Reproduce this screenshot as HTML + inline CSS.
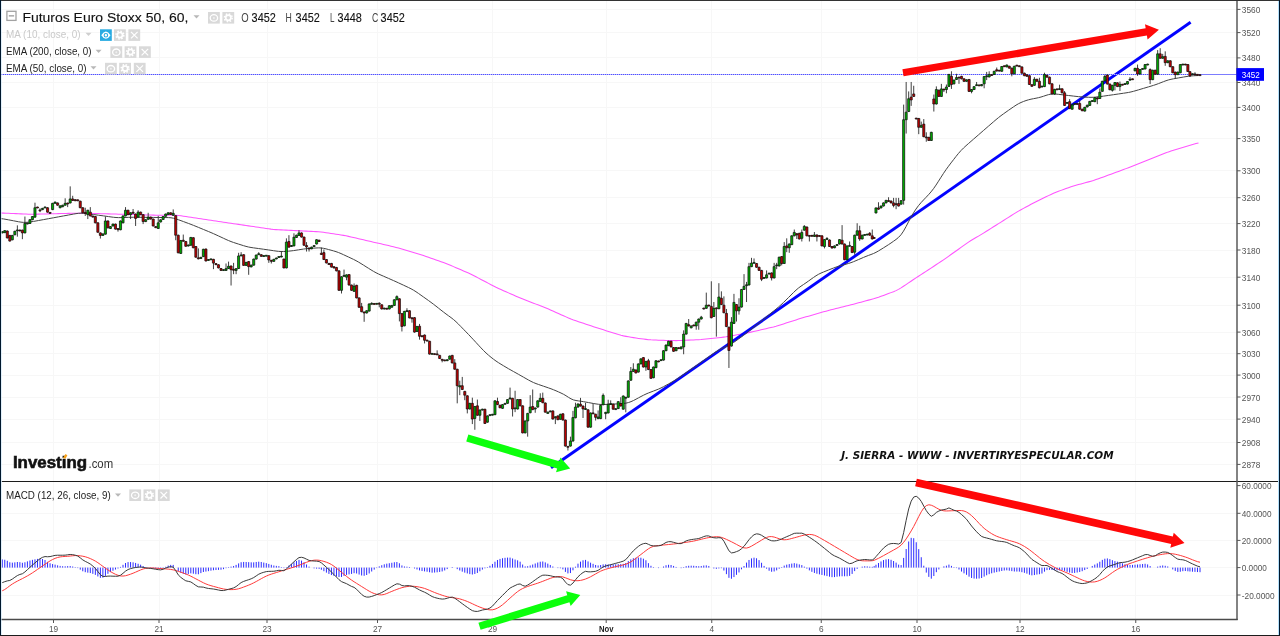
<!DOCTYPE html>
<html lang="es"><head><meta charset="utf-8"><title>Futuros Euro Stoxx 50</title>
<style>html,body{margin:0;padding:0;background:#fff;overflow:hidden}body{width:1280px;height:636px;font-family:"Liberation Sans",sans-serif}svg text{white-space:pre}</style>
</head><body>
<svg width="1280" height="636" viewBox="0 0 1280 636" style="display:block">
<path d="M1 9.5 H1237 M1 32.5 H1237 M1 57.5 H1237 M1 82.5 H1237 M1 107.5 H1237 M1 138.5 H1237 M1 170.5 H1237 M1 197.5 H1237 M1 223.5 H1237 M1 250.5 H1237 M1 277.5 H1237 M1 305.5 H1237 M1 332.5 H1237 M1 353.5 H1237 M1 375.5 H1237 M1 397.5 H1237 M1 419.5 H1237 M1 442.5 H1237 M1 464.5 H1237 M1 513.5 H1237 M1 540.5 H1237 M1 567.5 H1237 M1 595.5 H1237 M53.5 1 V619.5 M159.5 1 V619.5 M267.5 1 V619.5 M377.5 1 V619.5 M492.5 1 V619.5 M606.5 1 V619.5 M711.5 1 V619.5 M821.5 1 V619.5 M917.5 1 V619.5 M1020.5 1 V619.5 M1135.5 1 V619.5" stroke="#f7f7f7" stroke-width="1" fill="none"/>
<polyline points="1,213.05 3.5,213.12 6,213.21 8.5,213.32 11,213.43 13.5,213.53 16,213.64 18.5,213.75 21,213.86 23.5,213.96 26,214.07 28.5,214.16 31,214.22 33.5,214.22 36,214.18 38.5,214.13 41,214.07 43.5,214 46,213.94 48.5,213.88 51,213.82 53.5,213.76 56,213.7 58.5,213.64 61,213.58 63.5,213.52 66,213.45 68.5,213.39 71,213.33 73.5,213.27 76,213.21 78.5,213.17 81,213.16 83.5,213.19 86,213.25 88.5,213.32 91,213.39 93.5,213.46 96,213.53 98.5,213.6 101,213.67 103.5,213.74 106,213.81 108.5,213.88 111,213.94 113.5,214.01 116,214.08 118.5,214.15 121,214.22 123.5,214.29 126,214.36 128.5,214.43 131,214.5 133.5,214.57 136,214.64 138.5,214.71 141,214.77 143.5,214.84 146,214.91 148.5,214.98 151,215.05 153.5,215.12 156,215.18 158.5,215.23 161,215.24 163.5,215.23 166,215.19 168.5,215.14 171,215.1 173.5,215.11 176,215.22 178.5,215.46 181,215.79 183.5,216.17 186,216.54 188.5,216.92 191,217.29 193.5,217.67 196,218.04 198.5,218.42 201,218.79 203.5,219.17 206,219.54 208.5,219.92 211,220.29 213.5,220.67 216,221.04 218.5,221.42 221,221.79 223.5,222.17 226,222.54 228.5,222.91 231,223.29 233.5,223.66 236,224.02 238.5,224.39 241,224.76 243.5,225.13 246,225.5 248.5,225.86 251,226.23 253.5,226.6 256,226.97 258.5,227.34 261,227.7 263.5,228.07 266,228.44 268.5,228.8 271,229.14 273.5,229.42 276,229.61 278.5,229.76 281,229.88 283.5,230.01 286,230.13 288.5,230.25 291,230.37 293.5,230.5 296,230.62 298.5,230.74 301,230.87 303.5,230.99 306,231.11 308.5,231.23 311,231.36 313.5,231.48 316,231.61 318.5,231.79 321,232.03 323.5,232.34 326,232.7 328.5,233.08 331,233.46 333.5,233.84 336,234.21 338.5,234.59 341,234.97 343.5,235.39 346,235.85 348.5,236.38 351,236.94 353.5,237.52 356,238.1 358.5,238.67 361,239.25 363.5,239.83 366,240.41 368.5,240.98 371,241.56 373.5,242.14 376,242.71 378.5,243.29 381,243.86 383.5,244.44 386,245.01 388.5,245.59 391,246.17 393.5,246.77 396,247.4 398.5,248.09 401,248.8 403.5,249.53 406,250.25 408.5,250.98 411,251.71 413.5,252.44 416,253.16 418.5,253.91 421,254.7 423.5,255.53 426,256.39 428.5,257.26 431,258.13 433.5,259 436,259.88 438.5,260.75 441,261.63 443.5,262.52 446,263.47 448.5,264.48 451,265.54 453.5,266.61 456,267.69 458.5,268.76 461,269.84 463.5,270.92 466,271.99 468.5,273.1 471,274.26 473.5,275.5 476,276.79 478.5,278.11 481,279.43 483.5,280.75 486,282.07 488.5,283.39 491,284.71 493.5,286 496,287.25 498.5,288.43 501,289.56 503.5,290.66 506,291.76 508.5,292.86 511,293.96 513.5,295.06 516,296.17 518.5,297.25 521,298.31 523.5,299.32 526,300.3 528.5,301.25 531,302.21 533.5,303.17 536,304.12 538.5,305.08 541,306.03 543.5,307.01 546,308.01 548.5,309.07 551,310.17 553.5,311.28 556,312.4 558.5,313.53 561,314.65 563.5,315.77 566,316.89 568.5,317.99 571,319.02 573.5,319.97 576,320.85 578.5,321.68 581,322.51 583.5,323.34 586,324.16 588.5,324.99 591,325.82 593.5,326.64 596,327.46 598.5,328.26 601,329.06 603.5,329.86 606,330.65 608.5,331.45 611,332.24 613.5,333.03 616,333.83 618.5,334.59 621,335.29 623.5,335.88 626,336.36 628.5,336.79 631,337.21 633.5,337.62 636,338.03 638.5,338.42 641,338.78 643.5,339.1 646,339.39 648.5,339.65 651,339.85 653.5,339.98 656,340.08 658.5,340.16 661,340.24 663.5,340.32 666,340.4 668.5,340.48 671,340.55 673.5,340.6 676,340.61 678.5,340.55 681,340.46 683.5,340.35 686,340.24 688.5,340.13 691,340.02 693.5,339.91 696,339.8 698.5,339.67 701,339.5 703.5,339.27 706,339.02 708.5,338.75 711,338.49 713.5,338.22 716,337.95 718.5,337.68 721,337.41 723.5,337.12 726,336.78 728.5,336.37 731,335.93 733.5,335.46 736,334.99 738.5,334.52 741,334.05 743.5,333.59 746,333.12 748.5,332.63 751,332.13 753.5,331.58 756,331.01 758.5,330.42 761,329.84 763.5,329.25 766,328.66 768.5,328.08 771,327.49 773.5,326.89 776,326.23 778.5,325.5 781,324.72 783.5,323.92 786,323.12 788.5,322.31 791,321.51 793.5,320.71 796,319.9 798.5,319.11 801,318.33 803.5,317.58 806,316.85 808.5,316.13 811,315.42 813.5,314.7 816,313.98 818.5,313.27 821,312.55 823.5,311.84 826,311.15 828.5,310.49 831,309.85 833.5,309.23 836,308.6 838.5,307.98 841,307.35 843.5,306.73 846,306.1 848.5,305.47 851,304.83 853.5,304.18 856,303.51 858.5,302.83 861,302.15 863.5,301.48 866,300.8 868.5,300.12 871,299.44 873.5,298.75 876,298 878.5,297.19 881,296.31 883.5,295.39 886,294.47 888.5,293.55 891,292.63 893.5,291.68 896,290.61 898.5,289.35 901,287.87 903.5,286.24 906,284.57 908.5,282.89 911,281.22 913.5,279.55 916,277.89 918.5,276.25 921,274.61 923.5,272.98 926,271.34 928.5,269.71 931,268.08 933.5,266.44 936,264.81 938.5,263.17 941,261.51 943.5,259.82 946,258.08 948.5,256.32 951,254.54 953.5,252.76 956,250.98 958.5,249.21 961,247.43 963.5,245.65 966,243.88 968.5,242.15 971,240.52 973.5,239 976,237.55 978.5,236.11 981,234.62 983.5,233.09 986,231.52 988.5,229.95 991,228.37 993.5,226.8 996,225.23 998.5,223.65 1001,222.07 1003.5,220.49 1006,218.91 1008.5,217.32 1011,215.74 1013.5,214.17 1016,212.63 1018.5,211.15 1021,209.74 1023.5,208.37 1026,207.02 1028.5,205.67 1031,204.32 1033.5,202.99 1036,201.68 1038.5,200.43 1041,199.21 1043.5,198.01 1046,196.82 1048.5,195.63 1051,194.45 1053.5,193.31 1056,192.24 1058.5,191.27 1061,190.37 1063.5,189.49 1066,188.61 1068.5,187.74 1071,186.87 1073.5,186.05 1076,185.29 1078.5,184.57 1081,183.89 1083.5,183.22 1086,182.54 1088.5,181.87 1091,181.16 1093.5,180.4 1096,179.57 1098.5,178.69 1101,177.79 1103.5,176.89 1106,175.99 1108.5,175.09 1111,174.19 1113.5,173.27 1116,172.35 1118.5,171.42 1121,170.49 1123.5,169.56 1126,168.62 1128.5,167.68 1131,166.73 1133.5,165.75 1136,164.75 1138.5,163.74 1141,162.74 1143.5,161.73 1146,160.73 1148.5,159.73 1151,158.73 1153.5,157.73 1156,156.74 1158.5,155.75 1161,154.76 1163.5,153.76 1166,152.8 1168.5,151.88 1171,151.03 1173.5,150.25 1176,149.49 1178.5,148.73 1181,147.97 1183.5,147.21 1186,146.46 1188.5,145.7 1191,144.95 1193.5,144.2 1196,143.53 1198.5,143.03" fill="none" stroke="#ff55ff" stroke-width="1.05" stroke-linejoin="round"/>
<line x1="551" y1="467.8" x2="1190.6" y2="22.3" stroke="#0303ff" stroke-width="2.9"/>
<polyline points="1,218.61 3.5,218.93 6,219.36 8.5,219.83 11,220.31 13.5,220.79 16,221.27 18.5,221.75 21,222.15 23.5,222.39 26,222.38 28.5,222.16 31,221.81 33.5,221.41 36,220.98 38.5,220.53 41,220.07 43.5,219.61 46,219.15 48.5,218.69 51,218.23 53.5,217.77 56,217.31 58.5,216.85 61,216.39 63.5,215.93 66,215.47 68.5,215.01 71,214.55 73.5,214.09 76,213.65 78.5,213.31 81,213.17 83.5,213.27 86,213.54 88.5,213.87 91,214.21 93.5,214.54 96,214.88 98.5,215.21 101,215.55 103.5,215.89 106,216.23 108.5,216.59 111,216.94 113.5,217.27 116,217.51 118.5,217.63 121,217.62 123.5,217.54 126,217.44 128.5,217.35 131,217.28 133.5,217.25 136,217.25 138.5,217.27 141,217.3 143.5,217.32 146,217.35 148.5,217.38 151,217.4 153.5,217.43 156,217.46 158.5,217.48 161,217.51 163.5,217.53 166,217.55 168.5,217.6 171,217.79 173.5,218.22 176,218.91 178.5,219.77 181,220.68 183.5,221.6 186,222.52 188.5,223.45 191,224.4 193.5,225.38 196,226.39 198.5,227.42 201,228.45 203.5,229.48 206,230.5 208.5,231.54 211,232.59 213.5,233.67 216,234.8 218.5,235.96 221,237.12 223.5,238.29 226,239.44 228.5,240.54 231,241.56 233.5,242.46 236,243.28 238.5,244.08 241,244.87 243.5,245.66 246,246.38 248.5,247 251,247.47 253.5,247.85 256,248.19 258.5,248.54 261,248.88 263.5,249.22 266,249.58 268.5,249.94 271,250.31 273.5,250.69 276,251.06 278.5,251.37 281,251.54 283.5,251.52 286,251.38 288.5,251.17 291,250.91 293.5,250.6 296,250.23 298.5,249.83 301,249.43 303.5,249.06 306,248.77 308.5,248.54 311,248.35 313.5,248.17 316,247.99 318.5,247.89 321,247.96 323.5,248.31 326,248.86 328.5,249.52 331,250.19 333.5,250.88 336,251.65 338.5,252.54 341,253.57 343.5,254.7 346,255.86 348.5,257.03 351,258.19 353.5,259.39 356,260.67 358.5,262.07 361,263.58 363.5,265.14 366,266.72 368.5,268.29 371,269.86 373.5,271.36 376,272.74 378.5,273.97 381,275.11 383.5,276.2 386,277.3 388.5,278.39 391,279.49 393.5,280.59 396,281.71 398.5,282.86 401,284.02 403.5,285.18 406,286.35 408.5,287.52 411,288.77 413.5,290.16 416,291.74 418.5,293.45 421,295.22 423.5,296.99 426,298.76 428.5,300.54 431,302.36 433.5,304.23 436,306.17 438.5,308.13 441,310.11 443.5,312.06 446,313.96 448.5,315.77 451,317.58 453.5,319.52 456,321.72 458.5,324.16 461,326.71 463.5,329.29 466,331.87 468.5,334.46 471,337.1 473.5,339.77 476,342.47 478.5,345.19 481,347.89 483.5,350.51 486,352.95 488.5,355.18 491,357.26 493.5,359.21 496,361.04 498.5,362.7 501,364.26 503.5,365.76 506,367.25 508.5,368.72 511,370.14 513.5,371.54 516,372.93 518.5,374.33 521,375.75 523.5,377.17 526,378.6 528.5,380.02 531,381.35 533.5,382.55 536,383.57 538.5,384.48 541,385.33 543.5,386.19 546,387.04 548.5,387.9 551,388.79 553.5,389.75 556,390.79 558.5,391.9 561,393.04 563.5,394.28 566,395.73 568.5,397.35 571,398.84 573.5,399.92 576,400.53 578.5,400.9 581,401.25 583.5,401.66 586,402.11 588.5,402.57 591,403.03 593.5,403.5 596,403.93 598.5,404.28 601,404.47 603.5,404.5 606,404.42 608.5,404.3 611,404.18 613.5,404.06 616,403.94 618.5,403.82 621,403.69 623.5,403.49 626,403.14 628.5,402.54 631,401.65 633.5,400.5 636,399.2 638.5,397.85 641,396.5 643.5,395.21 646,394.02 648.5,392.96 651,391.99 653.5,391.04 656,390.09 658.5,389.08 661,387.95 663.5,386.69 666,385.34 668.5,383.95 671,382.55 673.5,381.11 676,379.58 678.5,377.95 681,376.24 683.5,374.5 686,372.75 688.5,371.01 691,369.27 693.5,367.53 696,365.79 698.5,364.04 701,362.29 703.5,360.53 706,358.76 708.5,356.99 711,355.23 713.5,353.46 716,351.78 718.5,350.25 721,348.95 723.5,347.79 726,346.69 728.5,345.49 731,344.11 733.5,342.52 736,340.79 738.5,339.01 741,337.21 743.5,335.39 746,333.5 748.5,331.53 751,329.51 753.5,327.47 756,325.43 758.5,323.39 761,321.35 763.5,319.31 766,317.27 768.5,315.24 771,313.2 773.5,311.16 776,309.11 778.5,307.01 781,304.81 783.5,302.45 786,300 788.5,297.5 791,295 793.5,292.5 796,290.14 798.5,288 801,286.18 803.5,284.49 806,282.81 808.5,281.04 811,279.24 813.5,277.46 816,275.78 818.5,274.3 821,273.07 823.5,272 826,271 828.5,270 831,269 833.5,268.02 836,267.1 838.5,266.28 841,265.54 843.5,264.86 846,264.18 848.5,263.46 851,262.64 853.5,261.69 856,260.65 858.5,259.57 861,258.5 863.5,257.42 866,256.38 868.5,255.41 871,254.5 873.5,253.52 876,252.34 878.5,250.93 881,249.4 883.5,247.83 886,246.27 888.5,244.67 891,243 893.5,241.25 896,239.47 898.5,237.4 901,234.75 903.5,231.12 906,226.67 908.5,221.84 911,217.17 913.5,212.87 916,209.03 918.5,205.64 921,202.67 923.5,199.97 926,197.37 928.5,194.73 931,191.89 933.5,188.7 936,185.08 938.5,181.21 941,177.24 943.5,173.37 946,169.69 948.5,166.24 951,162.93 953.5,159.69 956,156.46 958.5,153.38 961,150.54 963.5,148.03 966,145.73 968.5,143.53 971,141.35 973.5,139.17 976,137 978.5,134.83 981,132.65 983.5,130.48 986,128.31 988.5,126.14 991,123.98 993.5,121.81 996,119.67 998.5,117.6 1001,115.66 1003.5,113.83 1006,112.06 1008.5,110.31 1011,108.57 1013.5,106.83 1016,105.18 1018.5,103.71 1021,102.5 1023.5,101.46 1026,100.57 1028.5,99.8 1031,99.18 1033.5,98.68 1036,98.21 1038.5,97.67 1041,97.02 1043.5,96.24 1046,95.39 1048.5,94.63 1051,94.1 1053.5,93.94 1056,94.06 1058.5,94.33 1061,94.62 1063.5,94.91 1066,95.2 1068.5,95.5 1071,95.79 1073.5,96.09 1076,96.38 1078.5,96.65 1081,96.87 1083.5,97.04 1086,97.17 1088.5,97.28 1091,97.33 1093.5,97.28 1096,97.09 1098.5,96.82 1101,96.49 1103.5,96.14 1106,95.78 1108.5,95.42 1111,95.06 1113.5,94.69 1116,94.33 1118.5,93.96 1121,93.6 1123.5,93.23 1126,92.86 1128.5,92.44 1131,91.93 1133.5,91.3 1136,90.59 1138.5,89.85 1141,89.1 1143.5,88.36 1146,87.62 1148.5,86.87 1151,86.13 1153.5,85.35 1156,84.52 1158.5,83.6 1161,82.64 1163.5,81.65 1166,80.72 1168.5,79.92 1171,79.3 1173.5,78.8 1176,78.36 1178.5,77.92 1181,77.48 1183.5,77.04 1186,76.62 1188.5,76.24 1191,75.95 1193.5,75.76 1196,75.63 1198.5,75.55" fill="none" stroke="#454545" stroke-width="1" stroke-linejoin="round"/>
<path d="M1 74.5 H1200" stroke="#b8b8ff" stroke-width="1" fill="none"/>
<path d="M1 74.5 H1200" stroke="#5050ff" stroke-width="1" stroke-dasharray="1 1" fill="none"/>
<path d="M1200 74.5 H1237" stroke="#7c7cff" stroke-width="1" fill="none"/>
<path d="M2.26 231.13V233.4M4.78 230.13V233.14M7.3 230.5V238.43M9.81 234.91V241.57M12.33 234.91V240.31M14.84 230.75V235.28M17.36 225.35V236.67M19.87 229.62V231.38M22.39 229.62V239.18M24.91 216.54V233.4M27.42 222.83V224.34M29.94 219.18V223.96M32.45 216.04V220.19M34.97 202.7V217.67M37.48 206.73V208.24M40 208.36V212.14M42.52 207.86V210.13M45.03 206.6V208.24M47.55 207.23V212.64M50.06 212.01V213.77M52.58 202.83V210.13M55.09 201.57V203.84M57.61 202.45V205.72M60.13 205.35V208.24M62.64 204.72V207.23M65.16 198.3V205.72M67.67 202.7V207.11M70.19 186.35V203.46M72.7 195.79V200.94M75.22 199.18V201.19M77.74 199.43V201.19M80.25 200.69V208.24M82.77 207.23V213.27M85.28 207.74V215.91M87.8 209.75V219.06M90.31 207.11V216.42M92.83 215.53V217.55M95.35 216.04V223.33M97.86 222.33V232.77M100.38 232.39V238.55M102.89 233.4V235.91M105.41 216.54V234.65M107.92 220.44V228.36M110.44 226.1V228.99M112.96 223.58V226.48M115.47 223.58V229.62M117.99 228.11V231.64M120.5 220.44V230.25M123.02 215.41V223.33M125.53 207.11V216.42M128.05 209.75V215.16M130.57 212.26V219.06M133.08 208.99V213.77M135.6 213.52V225.97M138.11 210.25V217.67M140.63 211.64V215.16M143.14 214.15V224.09M145.66 219.18V222.08M148.18 212.77V219.81M150.69 216.67V219.56M153.21 218.55V226.48M155.72 226.1V228.11M158.24 215.91V228.99M160.63 219.34V222.48M163.14 216.07V219.97M165.66 213.55V216.82M168.18 212.3V214.94M170.69 212.3V214.94M173.21 209.4V215.82M175.72 215.19V240.22M178.24 234.69V253.3M180.75 239.97V253.93M183.27 234.56V241.73M185.79 240.97V246.76M188.3 244.5V246.51M190.82 236.95V245.75M193.33 237.2V248.27M195.85 246.01V257.7M198.36 248.4V259.34M200.88 256.82V258.96M203.4 248.77V257.08M205.91 248.52V261.48M208.43 259.09V260.85M210.94 258.58V260.09M213.46 258.84V269.15M215.97 263.11V265.13M218.49 264.25V268.4M221.01 268.02V270.91M223.52 269.28V270.91M226.04 263.49V270.91M228.55 261.6V269.03M231.07 265.5V285.5M233.58 262.86V274.18M236.1 268.14V274.18M238.62 252.8V269.03M241.13 252.17V256.32M243.65 254.18V265.88M246.16 261.86V265.88M248.68 261.1V274.81M251.19 264.62V267.39M253.71 258.58V265.63M256.23 254.56V259.59M258.74 252.17V255.06M261.26 254.18V256.82M263.77 255.31V256.82M266.29 255.06V256.32M268.81 255.19V262.86M271.32 259.84V263.49M273.84 258.84V261.86M276.35 257.58V259.34M278.87 256.19V257.83M281.38 251.54V257.33M283.9 258.58V268.4M286.42 238.33V268.4M288.93 235.19V247.64M291.45 245V247.01M293.96 233.3V246.38M296.48 234.69V237.96M298.99 230.16V235.94M301.51 232.42V237.58M304.03 236.57V245.75M306.54 242.11V251.54M309.06 247.52V251.54M311.57 246.64V249.28M314.09 245.13V247.01M316.6 239.21V244.5M319.12 239.72V241.98M321.38 247.58V255M323.9 249.47V260.03M326.42 259.03V263.43M328.93 262.92V264.94M331.45 262.92V267.58M333.96 266.19V268.46M336.48 266.95V271.35M338.99 270.35V290.85M341.51 276.26V293.49M344.03 269.59V276.76M346.54 274.37V280.28M349.06 274.12V285.57M351.57 284.56V290.85M354.09 283.43V291.86M356.6 284.81V298.4M359.12 297.39V307.83M361.64 302.92V312.23M364.15 311.48V321.79M366.67 310.22V313.49M369.18 303.43V311.6M371.7 302.3V304.56M374.21 303.18V304.69M376.73 303.05V304.56M379.25 302.3V307.33M381.76 304.31V309.47M384.28 307.7V309.47M386.79 307.96V309.47M389.31 305.19V309.47M391.82 304.94V307.7M394.34 299.28V305.94M396.86 295.38V300.28M399.4 298.27V321.42M401.92 313.11V331.48M404.43 310.85V326.32M406.95 308.21V311.86M409.47 310.22V318.4M411.98 317.39V322.67M414.5 317.14V332.61M417.01 325.94V331.98M419.53 323.93V339.65M422.04 335.38V337.14M424.56 334.5V343.43M427.08 339.78V341.42M429.59 340.79V354.62M432.11 353.11V354.62M434.62 353.36V354.87M437.14 350.35V355.13M439.65 354.87V359.03M442.17 358.9V362.3M444.69 359.65V361.16M447.2 359.28V361.16M449.72 355.5V359.65M452.23 354.87V363.43M454.75 359.15V369.72M457.23 368.74V403.33M459.75 380.69V395.16M462.26 376.92V390M464.78 390.88V400.19M467.3 395.28V413.4M469.81 402.83V409.5M472.33 397.67V424.09M474.84 405.97V429.75M477.36 399.56V415.79M479.87 409.5V420.94M482.39 408.74V410.5M484.91 408.74V423.96M487.42 415.41V422.7M489.94 414.28V416.04M492.45 413.9V415.53M494.97 400.31V415.16M497.48 397.67V405.09M500 404.72V408.24M502.52 404.09V408.87M505.03 402.96V404.72M507.55 399.06V403.84M510.06 387.61V399.43M512.58 397.8V416.54M515.09 390.75V412.14M517.61 399.06V409.5M520.13 399.06V406.35M522.64 405.35V433.4M525.16 420.44V433.4M527.67 412.89V436.67M530.19 395.16V413.27M532.7 389.5V410.13M535.22 407.48V412.77M537.74 400.31V407.61M540.25 393.27V401.95M542.77 392.64V403.21M545.28 402.45V412.64M547.8 411.64V413.9M550.31 410.5V412.26M552.83 410.38V419.56M555.35 416.29V424.09M557.86 415.41V420.19M560.38 413.77V419.81M562.89 413.27V420.57M565.41 419.56V446.6M567.92 445.97V450.5M570.44 436.67V446.6M572.96 410.88V441.57M575.47 402.7V418.3M577.99 403.46V407.61M580.5 397.86V406.54M583.02 405.53V417.99M585.53 402.89V409.94M588.05 409.31V427.67M590.57 412.45V427.67M593.08 403.52V414.21M595.6 413.71V420.5M598.11 410.44V419.12M600.63 404.91V419.12M603.14 393.46V405.28M605.66 411.82V419.25M608.18 399.75V413.46M610.69 400.38V404.91M613.21 403.65V409.69M615.72 408.18V410.06M618.24 401.13V409.06M620.75 397.23V406.54M623.27 395.47V409.69M625.79 396.86V412.33M628.3 380.38V397.74M630.82 367.04V380.75M633.33 363.27V371.95M635.85 369.43V373.46M638.36 363.4V372.58M640.88 358.36V364.4M643.4 357.11V367.55M645.91 360.88V370.82M648.43 358.87V370.06M650.94 369.06V378.87M653.46 366.54V378.24M655.97 360.25V368.18M658.49 360.63V362.26M661.01 359.37V361.01M663.52 350.19V360.63M666.04 344.53V351.19M668.55 340.75V346.16M671.07 340.75V347.42M673.58 347.04V351.82M676.1 347.04V351.19M678.62 347.3V349.06M681.13 346.42V349.31M683.65 330.35V354.25M686.16 322.92V334.62M688.68 319.03V326.45M691.19 325.44V328.33M693.71 324.56V326.32M696.23 321.67V329.72M698.74 318.52V329.72M701.26 315.88V319.53M703.77 307.7V309.47M706.29 292.61V308.84M708.81 304.69V306.45M711.32 281.29V318.27M713.84 302.04V317.01M716.35 307.45V336.64M718.87 283.18V309.21M721.38 291.35V305.06M723.9 296.38V313.24M726.42 308.96V327.08M728.93 326.7V367.96M731.45 317.14V346.57M733.96 293.87V323.93M736.48 304.06V321.54M738.99 298.27V314.62M741.51 288.96V307.58M744.03 274.12V289.97M746.54 281.92V302.04M748.99 262.86V285.5M751.51 257.83V267.14M754.03 258.46V263.62M756.54 262.99V267.77M759.06 266.76V270.91M761.57 269.91V281.1M764.09 277.2V278.71M766.6 270.41V278.46M769.12 272.8V274.43M771.64 272.42V280.47M774.15 262.86V278.46M776.67 262.86V269.15M779.18 256.7V266.51M781.7 256.07V265.38M784.21 242.11V263.99M786.73 238.33V252.17M789.25 243.49V252.8M791.76 235.31V245.13M794.28 229.53V236.32M796.79 233.18V238.96M799.31 232.8V239.47M801.82 229.53V241.48M804.34 225.13V230.66M806.86 226.51V236.32M809.37 235.06V241.48M811.89 234.94V236.7M814.4 232.04V236.95M816.92 234.43V241.48M819.43 235.19V236.7M821.95 235.31V246.38M824.47 239.09V248.4M826.98 237.08V239.72M829.5 239.47V247.01M832.01 246.01V248.52M834.53 245.38V248.27M837.04 244.25V245.75M839.56 239.09V244.5M842.08 225.13V244.5M844.59 243.49V260.22M847.11 245.38V260.22M849.62 241.48V246.64M852.14 246.01V253.05M854.65 234.69V254.69M857.17 223.24V235.69M859.69 225.75V240.85M862.2 234.69V239.47M864.72 234.18V235.69M867.23 233.81V235.31M869.75 232.04V235.69M872.26 229.53V239.47M874.15 237.2V238.71M875.97 207.42V213.46M878.49 202.26V209.69M881.01 205.53V208.43M883.52 202.39V206.54M886.04 199.87V203.4M888.55 197.23V201.76M891.07 200.5V203.4M893.58 197.86V207.3M896.1 197.86V209.18M898.62 197.86V206.54M901.13 200.13V204.65M903.65 104.62V204.62M906.16 81.98V133.55M908.68 91.42V112.04M911.19 81.98V105.88M913.71 85.75V96.95M916.23 117.83V119.34M918.74 117.96V134.18M921.26 121.6V127.77M923.77 119.09V137.2M926.29 132.3V141.73M928.81 136.82V140.97M931.32 131.79V140.97M933.84 94.56V111.54M936.35 86.38V104.5M938.87 89.65V96.95M941.38 83.87V96.95M943.9 88.77V92.04M946.42 84.5V93.3M948.93 73.93V86.89M951.45 71.29V88.9M953.96 79.59V84.37M956.48 73.81V79.97M958.99 76.82V83.87M961.51 75.82V79.34M964.03 78.33V81.86M966.54 79.34V81.86M969.06 78.96V91.92M971.57 89.03V93.3M974.09 86.13V90.03M976.6 81.98V86.01M979.12 84.62V86.13M981.64 83.99V86.26M984.15 76.07V88.27M986.67 71.92V80.09M989.18 71.29V77.45M991.7 74.31V75.82M994.21 70.79V74.94M996.73 67.52V71.54M999.25 69.91V71.42M1001.76 66.01V71.79M1004.28 65.5V67.01M1006.79 64.5V67.39M1009.31 65.75V68.65M1011.82 67.64V76.32M1014.34 65.75V74.31M1016.86 64.87V66.38M1019.37 65.5V67.01M1021.89 66.38V73.68M1024.4 72.67V76.19M1026.92 74.31V76.82M1029.43 75.19V85M1031.89 84.18V86.82M1034.4 77.14V85.82M1036.92 78.77V81.79M1039.43 77.77V88.33M1041.95 85.82V87.33M1044.47 72.74V87.08M1046.98 74.75V77.64M1049.5 76.64V84.31M1052.01 83.3V94.37M1054.53 88.84V94.62M1057.04 88.58V90.09M1059.56 84.69V89.84M1062.08 88.33V93.36M1064.59 90.97V105.94M1067.11 102.04V103.81M1069.62 99.15V109.09M1072.14 104.31V109.72M1074.65 103.18V104.69M1077.17 103.18V104.69M1079.69 100.41V109.72M1082.2 108.71V111.23M1084.72 106.82V111.6M1087.23 104.69V107.45M1089.75 100.91V105.94M1092.26 100.16V101.92M1094.78 97.14V102.17M1097.3 96.64V104.18M1099.81 88.46V99.03M1102.33 80.79V91.86M1104.84 74.62V81.42M1107.36 74.5V84.56M1109.87 83.55V90.22M1112.39 84.81V91.6M1114.91 82.04V90.35M1117.42 82.3V87.08M1119.94 81.54V90.97M1122.45 83.93V85.44M1124.97 83.3V84.81M1127.48 81.04V84.56M1130 77.14V80.53M1132.52 78.52V80.03M1135.03 67.83V71.35M1137.55 64.56V75.88M1140.06 69.09V74.5M1142.58 68.21V69.72M1145.09 64.06V69.47M1147.61 63.68V65.31M1150.13 68.33V84.06M1152.64 69.72V80.16M1155.16 69.72V74.75M1157.67 50.09V74.75M1160.19 48.21V58.77M1162.7 53.87V58.77M1165.22 51.35V65.82M1167.74 60.28V63.18M1170.25 60.28V67.2M1172.77 66.19V73.24M1175.28 71.6V78.4M1177.8 71.6V75.13M1180.31 64.06V73.24M1182.83 63.81V65.31M1185.35 63.81V65.31M1187.86 64.06V71.98M1189.94 71.13V76.54M1192.45 73.4V74.91M1194.97 72.26V75.16M1197.48 74.03V75.53M1200 74.4V75.91" stroke="#2a2a2a" stroke-width="0.9" fill="none"/>
<path d="M1.21 231.64h2.1v1.26h-2.1zM3.73 230.63h2.1v2.01h-2.1zM11.28 235.41h2.1v4.4h-2.1zM13.79 231.26h2.1v3.52h-2.1zM16.31 229.93h2.1v0.9h-2.1zM23.86 223.46h2.1v9.43h-2.1zM26.37 223.13h2.1v0.9h-2.1zM28.89 219.69h2.1v3.77h-2.1zM31.4 216.54h2.1v3.14h-2.1zM33.92 207.74h2.1v9.43h-2.1zM41.47 208.36h2.1v1.26h-2.1zM43.98 206.97h2.1v0.9h-2.1zM51.53 203.33h2.1v6.29h-2.1zM54.04 202.08h2.1v1.26h-2.1zM59.08 205.85h2.1v1.89h-2.1zM61.59 205.22h2.1v1.51h-2.1zM64.11 203.33h2.1v1.89h-2.1zM69.14 198.93h2.1v4.03h-2.1zM86.75 210.25h2.1v4.4h-2.1zM101.84 233.9h2.1v1.51h-2.1zM104.36 220.94h2.1v13.21h-2.1zM109.39 226.6h2.1v1.89h-2.1zM111.91 224.09h2.1v1.89h-2.1zM119.45 220.94h2.1v8.81h-2.1zM121.97 215.91h2.1v6.92h-2.1zM124.48 210.25h2.1v5.66h-2.1zM129.52 212.77h2.1v1.89h-2.1zM137.06 212.14h2.1v5.03h-2.1zM144.61 219.69h2.1v1.89h-2.1zM147.13 217.17h2.1v2.14h-2.1zM157.19 222.83h2.1v5.66h-2.1zM159.58 219.84h2.1v2.14h-2.1zM162.09 216.57h2.1v2.89h-2.1zM164.61 214.06h2.1v2.26h-2.1zM167.13 212.8h2.1v1.64h-2.1zM172.16 213.3h2.1v2.01h-2.1zM179.7 240.47h2.1v12.96h-2.1zM187.25 245h2.1v1.01h-2.1zM189.77 237.45h2.1v7.8h-2.1zM199.83 257.33h2.1v1.13h-2.1zM202.35 249.28h2.1v7.3h-2.1zM207.38 259.52h2.1v0.9h-2.1zM209.89 258.89h2.1v0.9h-2.1zM222.47 269.64h2.1v0.9h-2.1zM224.99 268.65h2.1v1.76h-2.1zM227.5 266.26h2.1v2.26h-2.1zM235.05 268.65h2.1v1.76h-2.1zM237.57 255.94h2.1v12.58h-2.1zM240.08 254.93h2.1v0.9h-2.1zM245.11 262.36h2.1v3.02h-2.1zM250.14 265.13h2.1v1.76h-2.1zM252.66 259.09h2.1v6.04h-2.1zM255.18 255.06h2.1v4.03h-2.1zM257.69 253.73h2.1v0.9h-2.1zM262.72 255.62h2.1v0.9h-2.1zM265.24 255.24h2.1v0.9h-2.1zM272.79 259.34h2.1v2.01h-2.1zM275.3 258.01h2.1v0.9h-2.1zM277.82 256.56h2.1v0.9h-2.1zM280.33 256.12h2.1v0.9h-2.1zM285.37 242.11h2.1v25.79h-2.1zM290.4 245.5h2.1v1.01h-2.1zM292.91 237.2h2.1v8.68h-2.1zM295.43 235.19h2.1v2.26h-2.1zM297.94 232.92h2.1v2.52h-2.1zM310.52 247.14h2.1v1.64h-2.1zM313.04 245.62h2.1v0.9h-2.1zM315.55 239.72h2.1v4.28h-2.1zM340.46 276.76h2.1v13.58h-2.1zM342.98 275.43h2.1v0.9h-2.1zM345.49 274.87h2.1v2.26h-2.1zM353.04 286.07h2.1v5.28h-2.1zM365.62 310.72h2.1v2.26h-2.1zM368.13 303.93h2.1v7.17h-2.1zM370.65 303.36h2.1v0.9h-2.1zM375.68 303.36h2.1v0.9h-2.1zM383.23 308.13h2.1v0.9h-2.1zM388.26 305.69h2.1v3.27h-2.1zM390.77 305.44h2.1v1.76h-2.1zM393.29 299.78h2.1v5.66h-2.1zM395.81 296.64h2.1v3.14h-2.1zM403.38 311.35h2.1v14.47h-2.1zM405.9 310.65h2.1v0.9h-2.1zM415.96 326.45h2.1v5.03h-2.1zM431.06 353.42h2.1v0.9h-2.1zM446.15 359.77h2.1v0.9h-2.1zM448.67 356.01h2.1v3.14h-2.1zM458.7 385.72h2.1v1.26h-2.1zM468.76 403.33h2.1v5.66h-2.1zM473.79 406.48h2.1v11.95h-2.1zM478.82 410h2.1v5.28h-2.1zM481.34 409.17h2.1v0.9h-2.1zM486.37 415.91h2.1v6.29h-2.1zM488.89 414.71h2.1v0.9h-2.1zM491.4 414.27h2.1v0.9h-2.1zM493.92 400.82h2.1v13.84h-2.1zM501.47 404.59h2.1v3.77h-2.1zM503.98 403.39h2.1v0.9h-2.1zM506.5 399.56h2.1v3.77h-2.1zM509.01 397.92h2.1v1.01h-2.1zM514.04 407.91h2.1v0.9h-2.1zM516.56 399.56h2.1v9.43h-2.1zM524.11 420.94h2.1v11.95h-2.1zM526.62 413.4h2.1v7.55h-2.1zM529.14 407.11h2.1v5.66h-2.1zM534.17 407.99h2.1v1.01h-2.1zM536.69 400.82h2.1v6.29h-2.1zM539.2 398.3h2.1v3.14h-2.1zM546.75 412.14h2.1v1.26h-2.1zM549.26 410.93h2.1v0.9h-2.1zM554.3 416.79h2.1v1.01h-2.1zM559.33 414.28h2.1v5.03h-2.1zM569.39 441.07h2.1v5.03h-2.1zM571.91 417.55h2.1v23.52h-2.1zM574.42 407.11h2.1v10.69h-2.1zM576.94 403.96h2.1v3.14h-2.1zM584.48 408.61h2.1v0.9h-2.1zM589.52 412.96h2.1v14.21h-2.1zM597.06 416.98h2.1v1.64h-2.1zM599.58 405.41h2.1v13.21h-2.1zM602.09 395.35h2.1v9.43h-2.1zM604.61 412.33h2.1v1.26h-2.1zM607.13 404.15h2.1v8.81h-2.1zM609.64 403.58h2.1v0.9h-2.1zM614.67 408.67h2.1v0.9h-2.1zM617.19 401.64h2.1v6.92h-2.1zM622.22 395.97h2.1v13.21h-2.1zM624.74 397.29h2.1v0.9h-2.1zM627.25 380.88h2.1v16.35h-2.1zM629.77 371.45h2.1v8.81h-2.1zM632.28 369.18h2.1v2.26h-2.1zM637.31 363.9h2.1v8.18h-2.1zM639.83 358.87h2.1v5.03h-2.1zM644.86 361.38h2.1v5.66h-2.1zM652.41 367.04h2.1v10.69h-2.1zM654.92 360.75h2.1v6.92h-2.1zM659.96 359.74h2.1v0.9h-2.1zM662.47 350.69h2.1v9.43h-2.1zM664.99 345.03h2.1v5.66h-2.1zM667.5 341.26h2.1v4.4h-2.1zM675.05 347.55h2.1v3.14h-2.1zM680.08 346.92h2.1v1.89h-2.1zM682.6 334.12h2.1v12.83h-2.1zM685.11 323.43h2.1v10.69h-2.1zM690.14 325.94h2.1v1.89h-2.1zM695.18 322.17h2.1v3.77h-2.1zM697.69 319.03h2.1v3.14h-2.1zM700.21 317.14h2.1v1.89h-2.1zM705.24 305.19h2.1v3.14h-2.1zM712.79 308.33h2.1v8.18h-2.1zM717.82 297.01h2.1v11.7h-2.1zM730.4 322.17h2.1v23.9h-2.1zM732.91 302.42h2.1v21.01h-2.1zM737.94 307.08h2.1v3.77h-2.1zM740.46 289.47h2.1v17.61h-2.1zM742.98 286.32h2.1v3.14h-2.1zM745.49 284.8h2.1v0.9h-2.1zM747.94 266.64h2.1v18.36h-2.1zM750.46 263.11h2.1v3.52h-2.1zM752.98 262.41h2.1v0.9h-2.1zM763.04 277.51h2.1v0.9h-2.1zM765.55 274.81h2.1v3.14h-2.1zM768.07 273.17h2.1v0.9h-2.1zM773.1 266.64h2.1v11.32h-2.1zM775.62 264.93h2.1v0.9h-2.1zM778.13 257.2h2.1v8.81h-2.1zM783.16 246.51h2.1v16.98h-2.1zM788.2 243.99h2.1v3.77h-2.1zM790.71 235.82h2.1v8.81h-2.1zM793.23 232.42h2.1v3.4h-2.1zM800.77 232.42h2.1v5.91h-2.1zM803.29 226.38h2.1v3.77h-2.1zM813.35 234.94h2.1v1.51h-2.1zM823.42 239.59h2.1v6.92h-2.1zM825.93 238.51h2.1v0.9h-2.1zM833.48 245.88h2.1v1.89h-2.1zM835.99 244.55h2.1v0.9h-2.1zM838.51 239.59h2.1v4.4h-2.1zM846.06 245.88h2.1v13.84h-2.1zM848.57 245.43h2.1v0.9h-2.1zM853.6 235.19h2.1v16.98h-2.1zM856.12 230.79h2.1v4.4h-2.1zM861.15 235.19h2.1v3.77h-2.1zM863.67 234.49h2.1v0.9h-2.1zM866.18 234.11h2.1v0.9h-2.1zM874.92 207.92h2.1v5.03h-2.1zM879.96 206.04h2.1v1.89h-2.1zM882.47 202.89h2.1v3.14h-2.1zM884.99 200.38h2.1v2.52h-2.1zM900.08 200.63h2.1v3.52h-2.1zM902.6 119.72h2.1v80.63h-2.1zM905.11 112.17h2.1v7.55h-2.1zM907.63 98.71h2.1v12.83h-2.1zM920.21 125.38h2.1v1.89h-2.1zM930.27 132.3h2.1v8.18h-2.1zM935.3 89.53h2.1v14.47h-2.1zM940.33 88.9h2.1v7.55h-2.1zM945.37 87.01h2.1v2.52h-2.1zM947.88 74.43h2.1v11.95h-2.1zM952.91 80.09h2.1v3.77h-2.1zM955.43 77.58h2.1v1.89h-2.1zM965.49 79.84h2.1v1.51h-2.1zM970.52 89.53h2.1v1.89h-2.1zM973.04 86.64h2.1v2.89h-2.1zM975.55 84.74h2.1v0.9h-2.1zM980.59 84.5h2.1v1.26h-2.1zM983.1 76.57h2.1v7.3h-2.1zM985.62 75.87h2.1v0.9h-2.1zM988.13 74.43h2.1v2.52h-2.1zM993.16 71.29h2.1v3.14h-2.1zM1000.71 66.51h2.1v4.78h-2.1zM1005.74 65h2.1v1.89h-2.1zM1013.29 66.26h2.1v7.55h-2.1zM1033.35 79.28h2.1v6.04h-2.1zM1040.9 86.12h2.1v0.9h-2.1zM1043.42 74.62h2.1v11.95h-2.1zM1053.48 89.34h2.1v4.78h-2.1zM1058.51 88.64h2.1v0.9h-2.1zM1066.06 102.47h2.1v0.9h-2.1zM1071.09 104.81h2.1v4.4h-2.1zM1073.6 103.48h2.1v0.9h-2.1zM1083.67 107.33h2.1v3.77h-2.1zM1086.18 105.19h2.1v1.76h-2.1zM1088.7 101.42h2.1v4.03h-2.1zM1091.21 100.59h2.1v0.9h-2.1zM1093.73 97.64h2.1v4.03h-2.1zM1098.76 92.23h2.1v6.29h-2.1zM1101.28 81.29h2.1v10.06h-2.1zM1103.79 76.51h2.1v4.4h-2.1zM1111.34 85.31h2.1v5.03h-2.1zM1113.86 82.55h2.1v2.77h-2.1zM1118.89 84.31h2.1v2.26h-2.1zM1123.92 83.61h2.1v0.9h-2.1zM1126.43 81.54h2.1v2.52h-2.1zM1128.95 79.27h2.1v0.9h-2.1zM1133.98 68.33h2.1v2.52h-2.1zM1139.01 69.59h2.1v4.4h-2.1zM1141.53 68.51h2.1v0.9h-2.1zM1144.04 64.56h2.1v4.4h-2.1zM1146.56 64.11h2.1v0.9h-2.1zM1151.59 70.22h2.1v9.43h-2.1zM1156.62 53.87h2.1v20.38h-2.1zM1161.65 56.64h2.1v1.64h-2.1zM1166.69 60.79h2.1v1.89h-2.1zM1176.75 72.11h2.1v2.52h-2.1zM1179.26 64.56h2.1v8.18h-2.1zM1181.78 64.11h2.1v0.9h-2.1zM1191.4 73.7h2.1v0.9h-2.1z" fill="#00b000" stroke="#0c0c0c" stroke-width="0.7"/>
<path d="M6.25 231.01h2.1v6.92h-2.1zM8.76 235.41h2.1v5.66h-2.1zM18.82 230.05h2.1v0.9h-2.1zM21.34 230.13h2.1v2.77h-2.1zM36.43 207.03h2.1v0.9h-2.1zM38.95 209.93h2.1v0.9h-2.1zM46.5 207.74h2.1v4.4h-2.1zM49.01 212.44h2.1v0.9h-2.1zM56.56 202.96h2.1v2.26h-2.1zM66.62 203.01h2.1v0.9h-2.1zM71.65 198.93h2.1v1.51h-2.1zM74.17 199.69h2.1v1.01h-2.1zM76.69 199.86h2.1v0.9h-2.1zM79.2 201.19h2.1v6.54h-2.1zM81.72 207.74h2.1v5.03h-2.1zM84.23 212.39h2.1v1.01h-2.1zM89.26 212.14h2.1v3.77h-2.1zM91.78 216.04h2.1v1.01h-2.1zM94.3 216.54h2.1v6.29h-2.1zM96.81 222.83h2.1v9.43h-2.1zM99.33 232.89h2.1v2.52h-2.1zM106.87 220.94h2.1v6.92h-2.1zM114.42 224.09h2.1v5.03h-2.1zM116.94 228.62h2.1v1.01h-2.1zM127 210.25h2.1v4.4h-2.1zM132.03 212.26h2.1v1.01h-2.1zM134.55 214.03h2.1v4.4h-2.1zM139.58 212.14h2.1v2.52h-2.1zM142.09 214.65h2.1v6.92h-2.1zM149.64 217.17h2.1v1.89h-2.1zM152.16 219.06h2.1v6.92h-2.1zM154.67 226.6h2.1v1.01h-2.1zM169.64 212.8h2.1v1.64h-2.1zM174.67 215.69h2.1v19.5h-2.1zM177.19 235.19h2.1v17.61h-2.1zM182.22 240.22h2.1v1.01h-2.1zM184.74 241.48h2.1v4.78h-2.1zM192.28 237.7h2.1v10.06h-2.1zM194.8 246.51h2.1v10.69h-2.1zM197.31 257.83h2.1v1.01h-2.1zM204.86 249.03h2.1v11.95h-2.1zM212.41 259.34h2.1v3.77h-2.1zM214.92 263.62h2.1v1.01h-2.1zM217.44 264.75h2.1v3.14h-2.1zM219.96 268.52h2.1v1.89h-2.1zM230.02 266.01h2.1v3.77h-2.1zM232.53 269.33h2.1v0.9h-2.1zM242.6 254.69h2.1v10.69h-2.1zM247.63 261.6h2.1v5.03h-2.1zM260.21 254.69h2.1v1.64h-2.1zM267.76 255.69h2.1v4.28h-2.1zM270.27 260.35h2.1v1.01h-2.1zM282.85 259.09h2.1v8.81h-2.1zM287.88 241.48h2.1v5.66h-2.1zM300.46 232.92h2.1v4.15h-2.1zM302.98 237.08h2.1v8.18h-2.1zM305.49 245.5h2.1v1.51h-2.1zM308.01 248.02h2.1v1.01h-2.1zM318.07 240.22h2.1v1.26h-2.1zM320.33 253.24h2.1v1.26h-2.1zM322.85 252.61h2.1v6.92h-2.1zM325.37 259.53h2.1v3.4h-2.1zM327.88 263.43h2.1v1.01h-2.1zM330.4 263.43h2.1v3.65h-2.1zM332.91 266.7h2.1v1.26h-2.1zM335.43 267.45h2.1v3.4h-2.1zM337.94 270.85h2.1v19.5h-2.1zM348.01 274.62h2.1v10.44h-2.1zM350.52 285.06h2.1v5.28h-2.1zM355.55 285.31h2.1v12.58h-2.1zM358.07 297.89h2.1v9.43h-2.1zM360.59 306.7h2.1v5.03h-2.1zM363.1 311.98h2.1v1.01h-2.1zM373.16 303.48h2.1v0.9h-2.1zM378.2 303.23h2.1v0.9h-2.1zM380.71 304.81h2.1v4.15h-2.1zM385.74 308.26h2.1v0.9h-2.1zM398.35 298.77h2.1v14.84h-2.1zM400.87 313.62h2.1v12.83h-2.1zM408.42 310.72h2.1v7.17h-2.1zM410.93 317.82h2.1v0.9h-2.1zM413.45 317.64h2.1v14.47h-2.1zM418.48 326.19h2.1v10.06h-2.1zM420.99 335.81h2.1v0.9h-2.1zM423.51 335h2.1v5.28h-2.1zM426.03 340.15h2.1v0.9h-2.1zM428.54 341.29h2.1v12.83h-2.1zM433.57 353.67h2.1v0.9h-2.1zM436.09 353.92h2.1v0.9h-2.1zM438.6 355.38h2.1v3.14h-2.1zM441.12 359.33h2.1v0.9h-2.1zM443.64 359.96h2.1v0.9h-2.1zM451.18 355.38h2.1v7.55h-2.1zM453.7 362.92h2.1v6.29h-2.1zM456.18 369.25h2.1v16.48h-2.1zM461.21 385.72h2.1v3.77h-2.1zM463.73 391.38h2.1v3.77h-2.1zM466.25 395.79h2.1v13.21h-2.1zM471.28 403.33h2.1v15.72h-2.1zM476.31 405.85h2.1v9.43h-2.1zM483.86 409.25h2.1v14.21h-2.1zM496.43 401.45h2.1v3.14h-2.1zM498.95 405.22h2.1v2.52h-2.1zM511.53 398.3h2.1v10.69h-2.1zM519.08 399.56h2.1v6.29h-2.1zM521.59 405.85h2.1v27.04h-2.1zM531.65 406.48h2.1v3.14h-2.1zM541.72 398.3h2.1v4.4h-2.1zM544.23 402.96h2.1v9.18h-2.1zM551.78 410.88h2.1v8.18h-2.1zM556.81 415.91h2.1v3.77h-2.1zM561.84 413.77h2.1v6.29h-2.1zM564.36 420.06h2.1v26.04h-2.1zM566.87 446.41h2.1v0.9h-2.1zM579.45 404.15h2.1v1.89h-2.1zM581.97 406.04h2.1v2.89h-2.1zM587 409.81h2.1v17.36h-2.1zM592.03 412.88h2.1v0.9h-2.1zM594.55 414.21h2.1v3.14h-2.1zM612.16 404.15h2.1v5.03h-2.1zM619.7 403.52h2.1v2.52h-2.1zM634.8 369.94h2.1v3.02h-2.1zM642.35 357.61h2.1v9.43h-2.1zM647.38 360.75h2.1v8.81h-2.1zM649.89 369.56h2.1v8.81h-2.1zM657.44 361h2.1v0.9h-2.1zM670.02 341.26h2.1v5.66h-2.1zM672.53 347.55h2.1v3.77h-2.1zM677.57 347.73h2.1v0.9h-2.1zM687.63 324.69h2.1v1.26h-2.1zM692.66 324.99h2.1v0.9h-2.1zM702.72 308.13h2.1v0.9h-2.1zM707.76 305.12h2.1v0.9h-2.1zM710.27 306.45h2.1v11.32h-2.1zM715.3 307.88h2.1v0.9h-2.1zM720.33 298.27h2.1v6.29h-2.1zM722.85 305.19h2.1v7.55h-2.1zM725.37 313.36h2.1v13.21h-2.1zM727.88 327.2h2.1v23.27h-2.1zM735.43 304.56h2.1v6.29h-2.1zM755.49 263.49h2.1v3.77h-2.1zM758.01 267.26h2.1v3.14h-2.1zM760.52 270.41h2.1v8.81h-2.1zM770.59 272.92h2.1v5.03h-2.1zM780.65 256.57h2.1v6.92h-2.1zM785.68 245.88h2.1v1.89h-2.1zM795.74 233.68h2.1v1.26h-2.1zM798.26 233.3h2.1v5.66h-2.1zM805.81 227.01h2.1v8.81h-2.1zM808.32 235.43h2.1v0.9h-2.1zM810.84 235.37h2.1v0.9h-2.1zM815.87 234.94h2.1v1.76h-2.1zM818.38 235.49h2.1v0.9h-2.1zM820.9 235.82h2.1v10.06h-2.1zM828.45 239.97h2.1v6.54h-2.1zM830.96 246.51h2.1v1.51h-2.1zM841.03 240.22h2.1v3.77h-2.1zM843.54 243.99h2.1v15.72h-2.1zM851.09 246.51h2.1v6.04h-2.1zM858.64 230.79h2.1v8.18h-2.1zM868.7 233.3h2.1v1.89h-2.1zM871.21 235.82h2.1v3.14h-2.1zM873.1 237.51h2.1v0.9h-2.1zM877.44 207.92h2.1v1.26h-2.1zM887.5 200.56h2.1v0.9h-2.1zM890.02 201.01h2.1v1.89h-2.1zM892.53 202.89h2.1v2.52h-2.1zM895.05 203.7h2.1v0.9h-2.1zM897.57 203.52h2.1v2.52h-2.1zM910.14 97.08h2.1v2.89h-2.1zM912.66 93.93h2.1v2.52h-2.1zM915.18 118.13h2.1v0.9h-2.1zM917.69 118.46h2.1v8.81h-2.1zM922.72 124.12h2.1v12.58h-2.1zM925.24 136.94h2.1v0.9h-2.1zM927.76 137.33h2.1v3.14h-2.1zM932.79 98.96h2.1v5.03h-2.1zM937.82 90.16h2.1v6.29h-2.1zM942.85 89.08h2.1v0.9h-2.1zM950.4 76.32h2.1v8.18h-2.1zM957.94 77.13h2.1v0.9h-2.1zM960.46 76.32h2.1v2.52h-2.1zM962.98 78.84h2.1v2.52h-2.1zM968.01 79.47h2.1v11.95h-2.1zM978.07 84.93h2.1v0.9h-2.1zM990.65 74.61h2.1v0.9h-2.1zM995.68 69.78h2.1v1.26h-2.1zM998.2 70.21h2.1v0.9h-2.1zM1003.23 65.81h2.1v0.9h-2.1zM1008.26 66.26h2.1v1.89h-2.1zM1010.77 68.14h2.1v5.66h-2.1zM1015.81 65.18h2.1v0.9h-2.1zM1018.32 65.81h2.1v0.9h-2.1zM1020.84 66.89h2.1v6.29h-2.1zM1023.35 73.18h2.1v2.52h-2.1zM1025.87 74.81h2.1v1.51h-2.1zM1028.38 75.69h2.1v8.81h-2.1zM1030.84 84.69h2.1v1.64h-2.1zM1035.87 79.28h2.1v2.01h-2.1zM1038.38 81.29h2.1v6.54h-2.1zM1045.93 75.25h2.1v1.89h-2.1zM1048.45 77.14h2.1v6.67h-2.1zM1050.96 83.81h2.1v10.06h-2.1zM1055.99 88.89h2.1v0.9h-2.1zM1061.03 88.84h2.1v4.03h-2.1zM1063.54 92.86h2.1v12.58h-2.1zM1068.57 101.67h2.1v6.92h-2.1zM1076.12 103.48h2.1v0.9h-2.1zM1078.64 103.55h2.1v5.66h-2.1zM1081.15 109.21h2.1v1.51h-2.1zM1096.25 98.07h2.1v0.9h-2.1zM1106.31 75h2.1v9.06h-2.1zM1108.82 84.06h2.1v5.66h-2.1zM1116.37 82.8h2.1v3.77h-2.1zM1121.4 84.24h2.1v0.9h-2.1zM1131.47 78.83h2.1v0.9h-2.1zM1136.5 68.33h2.1v5.66h-2.1zM1149.08 69.59h2.1v10.06h-2.1zM1154.11 70.22h2.1v4.03h-2.1zM1159.14 53.87h2.1v4.4h-2.1zM1164.17 56.38h2.1v6.29h-2.1zM1169.2 60.79h2.1v5.91h-2.1zM1171.72 66.7h2.1v6.04h-2.1zM1174.23 72.11h2.1v2.52h-2.1zM1184.3 64.11h2.1v0.9h-2.1zM1186.81 64.56h2.1v6.92h-2.1zM1188.89 71.64h2.1v4.4h-2.1zM1193.92 73.95h2.1v0.9h-2.1zM1196.43 74.33h2.1v0.9h-2.1zM1198.95 74.71h2.1v0.9h-2.1z" fill="#c40000" stroke="#0c0c0c" stroke-width="0.7"/>
<path d="M2.26 567.6V559.46M4.78 567.6V559.76M7.3 567.6V560.78M9.81 567.6V562.29M12.33 567.6V562.65M14.84 567.6V562.38M17.36 567.6V562.01M19.87 567.6V562.16M22.39 567.6V562.78M24.91 567.6V562.28M27.42 567.6V561.37M29.94 567.6V560.52M32.45 567.6V559.83M34.97 567.6V559.33M37.48 567.6V558.92M40 567.6V558.67M42.52 567.6V559.02M45.03 567.6V559.97M47.55 567.6V561.85M50.06 567.6V563.26M52.58 567.6V564.07M55.09 567.6V564.63M57.61 567.6V565.34M60.13 567.6V565.91M62.64 567.6V566.22M65.16 567.6V566.31M67.67 567.6V566.1M70.19 567.6V566.04M72.7 567.6V566.51M75.22 567.6V567.1M77.74 567.6V568.1M80.25 567.6V569.63M82.77 567.6V571.28M85.28 567.6V572.2M87.8 567.6V572.66M90.31 567.6V573.06M92.83 567.6V573.87M95.35 567.6V574.9M97.86 567.6V576.47M100.38 567.6V577.83M102.89 567.6V577.67M105.41 567.6V575.95M107.92 567.6V573.81M110.44 567.6V572.14M112.96 567.6V570.74M115.47 567.6V569.55M117.99 567.6V568.47M120.5 567.6V566.9M123.02 567.6V564.83M125.53 567.6V563.01M128.05 567.6V562.1M130.57 567.6V562.05M133.08 567.6V562.33M135.6 567.6V562.94M138.11 567.6V563.74M140.63 567.6V564.66M143.14 567.6V566M145.66 567.6V567.07M150.69 567.6V568.1M153.21 567.6V568.39M155.72 567.6V568.68M158.24 567.6V568.92M160.63 567.6V568.94M163.14 567.6V568.11M165.66 567.6V566.79M168.18 567.6V565.59M170.69 567.6V564.89M173.21 567.6V564.9M178.24 567.6V571.15M180.75 567.6V572.73M183.27 567.6V573.76M185.79 567.6V574.45M188.3 567.6V573.94M190.82 567.6V573.35M193.33 567.6V573.69M195.85 567.6V574.21M198.36 567.6V574.27M200.88 567.6V573.1M203.4 567.6V572M205.91 567.6V571.6M208.43 567.6V571.16M210.94 567.6V570.66M213.46 567.6V570.25M215.97 567.6V570.02M218.49 567.6V569.88M221.01 567.6V569.71M223.52 567.6V569.18M226.04 567.6V568.2M228.55 567.6V567.1M231.07 567.6V566.61M233.58 567.6V565.97M236.1 567.6V564.88M238.62 567.6V563.41M241.13 567.6V562.22M243.65 567.6V561.94M246.16 567.6V562.02M248.68 567.6V562.16M251.19 567.6V562.34M253.71 567.6V562.33M256.23 567.6V561.97M258.74 567.6V561.7M261.26 567.6V561.99M263.77 567.6V562.56M266.29 567.6V563.14M268.81 567.6V563.93M271.32 567.6V564.79M273.84 567.6V565.51M276.35 567.6V565.86M278.87 567.6V566.14M281.38 567.6V567.07M283.9 567.6V568.15M286.42 567.6V567.1M288.93 567.6V565.54M291.45 567.6V563.92M293.96 567.6V562.35M296.48 567.6V560.91M298.99 567.6V559.93M301.51 567.6V560.59M304.03 567.6V562.24M306.54 567.6V564.49M309.06 567.6V566.61M314.09 567.6V568.4M316.6 567.6V568.66M319.12 567.6V568.83M321.38 567.6V569.75M323.9 567.6V571.2M326.42 567.6V572.65M328.93 567.6V573.94M331.45 567.6V575.09M333.96 567.6V575.91M336.48 567.6V576.52M338.99 567.6V577.04M341.51 567.6V576.94M344.03 567.6V575.93M346.54 567.6V574.91M349.06 567.6V574.38M351.57 567.6V573.92M354.09 567.6V573.18M356.6 567.6V573.51M359.12 567.6V574.52M361.64 567.6V575.51M364.15 567.6V575.79M366.67 567.6V575.01M369.18 567.6V573.48M371.7 567.6V571.51M374.21 567.6V569.62M376.73 567.6V568.1M379.25 567.6V566.37M381.76 567.6V565.22M384.28 567.6V564.3M386.79 567.6V563.66M389.31 567.6V563.22M391.82 567.6V562.75M394.34 567.6V562.24M396.86 567.6V562.01M399.4 567.6V563.27M401.92 567.6V565.45M404.43 567.6V566.48M406.95 567.6V566.66M409.47 567.6V567M414.5 567.6V568.45M417.01 567.6V569.46M419.53 567.6V570.41M422.04 567.6V571.04M424.56 567.6V571.38M427.08 567.6V571.72M429.59 567.6V572.27M432.11 567.6V572.68M434.62 567.6V572.56M437.14 567.6V572.3M439.65 567.6V571.93M442.17 567.6V571.45M444.69 567.6V570.46M447.2 567.6V569.1M452.23 567.6V567.03M457.23 567.6V569.16M459.75 567.6V570.49M462.26 567.6V571.65M464.78 567.6V572.65M467.3 567.6V573.45M469.81 567.6V574.14M472.33 567.6V574.51M474.84 567.6V573.96M477.36 567.6V572.96M479.87 567.6V571.28M482.39 567.6V569.58M484.91 567.6V568.3M487.42 567.6V567.1M489.94 567.6V565.75M492.45 567.6V563.96M494.97 567.6V561.71M497.48 567.6V559.98M500 567.6V558.9M502.52 567.6V558.24M505.03 567.6V557.84M507.55 567.6V557.6M510.06 567.6V557.6M512.58 567.6V558.49M515.09 567.6V559.54M517.61 567.6V560.33M520.13 567.6V561.69M522.64 567.6V564.55M525.16 567.6V566.41M527.67 567.6V566.21M530.19 567.6V565.48M532.7 567.6V564.54M535.22 567.6V563.51M537.74 567.6V562.52M540.25 567.6V561.72M542.77 567.6V561.5M545.28 567.6V562.42M547.8 567.6V563.62M550.31 567.6V564.96M552.83 567.6V566.49M557.86 567.6V568.1M560.38 567.6V568.25M562.89 567.6V569.39M565.41 567.6V571.9M567.92 567.6V573.42M570.44 567.6V573.04M572.96 567.6V570.31M575.47 567.6V566.71M577.99 567.6V563.67M580.5 567.6V561.65M583.02 567.6V560.29M585.53 567.6V559.9M588.05 567.6V561.43M590.57 567.6V562.68M593.08 567.6V563.83M595.6 567.6V564.97M598.11 567.6V565.44M600.63 567.6V565.03M603.14 567.6V564.38M605.66 567.6V564.28M608.18 567.6V564.38M610.69 567.6V564.42M613.21 567.6V564.37M615.72 567.6V564.28M618.24 567.6V564.18M620.75 567.6V564.07M623.27 567.6V563.86M625.79 567.6V563M628.3 567.6V561.11M630.82 567.6V559.36M633.33 567.6V558.23M635.85 567.6V557.77M638.36 567.6V557.53M640.88 567.6V557.73M643.4 567.6V558.68M645.91 567.6V560.24M648.43 567.6V563.16M650.94 567.6V565.79M653.46 567.6V567.1M658.49 567.6V568.1M663.52 567.6V566.52M666.04 567.6V565.26M668.55 567.6V564.78M671.07 567.6V565.01M673.58 567.6V565.93M676.1 567.6V566.93M681.13 567.6V568.17M683.65 567.6V567.1M686.16 567.6V566.18M688.68 567.6V565.79M691.19 567.6V565.7M693.71 567.6V565.79M696.23 567.6V566.02M698.74 567.6V566.21M701.26 567.6V565.99M703.77 567.6V565.53M706.29 567.6V565.39M708.81 567.6V565.97M713.84 567.6V568.46M716.35 567.6V568.85M718.87 567.6V568.45M721.38 567.6V568.19M723.9 567.6V570.53M726.42 567.6V574.16M728.93 567.6V577.83M731.45 567.6V578.74M733.96 567.6V577.08M736.48 567.6V574.83M738.99 567.6V572.46M741.51 567.6V569.32M744.03 567.6V566.02M746.54 567.6V562.58M748.99 567.6V559.98M751.51 567.6V558.38M754.03 567.6V557.68M756.54 567.6V558.27M759.06 567.6V560.12M761.57 567.6V562.77M764.09 567.6V565.93M766.6 567.6V568.73M769.12 567.6V570.75M771.64 567.6V571.76M774.15 567.6V571.46M776.67 567.6V570.38M779.18 567.6V568.75M781.7 567.6V567.05M784.21 567.6V565.58M786.73 567.6V564.66M789.25 567.6V564.12M791.76 567.6V563.58M794.28 567.6V563.16M796.79 567.6V563.63M799.31 567.6V564.4M801.82 567.6V565.09M804.34 567.6V566.67M806.86 567.6V568.63M809.37 567.6V570.4M811.89 567.6V571.84M814.4 567.6V572.96M816.92 567.6V573.75M819.43 567.6V574.37M821.95 567.6V574.94M824.47 567.6V575.51M826.98 567.6V576.08M829.5 567.6V576.68M832.01 567.6V577.16M834.53 567.6V577.08M837.04 567.6V576.71M839.56 567.6V576.39M842.08 567.6V576.31M844.59 567.6V576.29M847.11 567.6V576.27M849.62 567.6V575.89M852.14 567.6V573.92M854.65 567.6V571.12M857.17 567.6V568.84M862.2 567.6V566.63M864.72 567.6V566.22M867.23 567.6V566.39M869.75 567.6V566.68M872.26 567.6V566.84M874.15 567.6V566.08M875.97 567.6V564.73M878.49 567.6V563.04M881.01 567.6V561.44M883.52 567.6V560.09M886.04 567.6V559.4M888.55 567.6V559.1M891.07 567.6V559.8M893.58 567.6V561.03M896.1 567.6V562.62M898.62 567.6V564.62M901.13 567.6V565.07M903.65 567.6V557.92M906.16 567.6V549.03M908.68 567.6V541.48M911.19 567.6V537.84M913.71 567.6V538.2M916.23 567.6V542.25M918.74 567.6V549.12M921.26 567.6V557.22M923.77 567.6V565.73M926.29 567.6V572.6M928.81 567.6V576.87M931.32 567.6V578.68M933.84 567.6V576.03M936.35 567.6V572.17M938.87 567.6V569.43M943.9 567.6V566.36M946.42 567.6V565.67M948.93 567.6V564.61M951.45 567.6V565.88M953.96 567.6V567.1M956.48 567.6V568.1M958.99 567.6V569.51M961.51 567.6V571.56M964.03 567.6V573.35M966.54 567.6V574.8M969.06 567.6V576.67M971.57 567.6V577.98M974.09 567.6V578.56M976.6 567.6V578.7M979.12 567.6V578.5M981.64 567.6V578.03M984.15 567.6V576.64M986.67 567.6V575.29M989.18 567.6V574.18M991.7 567.6V573.31M994.21 567.6V572.63M996.73 567.6V572.12M999.25 567.6V571.52M1001.76 567.6V570.97M1004.28 567.6V570.5M1006.79 567.6V570.34M1009.31 567.6V570.68M1011.82 567.6V571.13M1014.34 567.6V571.47M1016.86 567.6V571.55M1019.37 567.6V571.62M1021.89 567.6V572.2M1024.4 567.6V572.83M1026.92 567.6V573.66M1029.43 567.6V574.73M1031.89 567.6V575.35M1034.4 567.6V575.06M1036.92 567.6V574.56M1039.43 567.6V574.19M1041.95 567.6V573.55M1044.47 567.6V571.67M1046.98 567.6V570.1M1049.5 567.6V569.85M1052.01 567.6V569.98M1054.53 567.6V570.24M1057.04 567.6V570.48M1059.56 567.6V570.31M1062.08 567.6V570.25M1064.59 567.6V570.91M1067.11 567.6V571.84M1069.62 567.6V572.59M1072.14 567.6V573.05M1074.65 567.6V572.95M1077.17 567.6V572.51M1079.69 567.6V571.97M1082.2 567.6V571.19M1084.72 567.6V570.05M1087.23 567.6V568.91M1092.26 567.6V565.96M1094.78 567.6V564.59M1097.3 567.6V563.38M1099.81 567.6V561.75M1102.33 567.6V559.86M1104.84 567.6V558.71M1107.36 567.6V558.43M1109.87 567.6V559.12M1112.39 567.6V560.18M1114.91 567.6V561.09M1117.42 567.6V561.68M1119.94 567.6V562.33M1122.45 567.6V563.31M1124.97 567.6V564.24M1127.48 567.6V564.74M1130 567.6V564.97M1132.52 567.6V564.9M1135.03 567.6V564.68M1137.55 567.6V564.48M1140.06 567.6V564.29M1142.58 567.6V564.02M1145.09 567.6V563.78M1147.61 567.6V564.41M1150.13 567.6V566.09M1157.67 567.6V566.61M1160.19 567.6V565.83M1162.7 567.6V565.46M1165.22 567.6V565.81M1167.74 567.6V566.44M1172.77 567.6V569.42M1175.28 567.6V570.91M1177.8 567.6V571.95M1180.31 567.6V571.73M1182.83 567.6V571.19M1185.35 567.6V571.02M1187.86 567.6V571.31M1189.94 567.6V571.53M1192.45 567.6V571.73M1194.97 567.6V571.89M1197.48 567.6V572.06M1200 567.6V572.19" stroke="#2b2bff" stroke-width="1" fill="none"/>
<polyline points="2.26,590.81 4.78,589.48 7.3,587.71 9.81,585.79 12.33,584.02 14.84,582.5 17.36,581.14 19.87,579.87 22.39,578.6 24.91,577.27 27.42,575.88 29.94,574.41 32.45,572.84 34.97,571.17 37.48,569.42 40,567.65 42.52,565.91 45.03,564.2 47.55,562.52 50.06,560.92 52.58,559.51 55.09,558.36 57.61,557.49 60.13,556.91 62.64,556.6 65.16,556.45 67.67,556.31 70.19,556.04 72.7,555.75 75.22,555.56 77.74,555.61 80.25,555.83 82.77,556.21 85.28,556.77 87.8,557.58 90.31,558.58 92.83,559.75 95.35,561.09 97.86,562.69 100.38,564.47 102.89,566.33 105.41,568.15 107.92,569.91 110.44,571.55 112.96,573.03 115.47,574.31 117.99,575.31 120.5,575.94 123.02,576.06 125.53,575.73 128.05,575.03 130.57,574.18 133.08,573.21 135.6,572.17 138.11,571.02 140.63,569.91 143.14,568.98 145.66,568.39 148.18,568.08 150.69,567.98 153.21,568.03 155.72,568.16 158.24,568.35 160.63,568.53 163.14,568.72 165.66,568.91 168.18,569.11 170.69,569.41 173.21,569.87 175.72,570.53 178.24,571.32 180.75,572.17 183.27,573.03 185.79,573.96 188.3,575.01 190.82,576.2 193.33,577.49 195.85,578.83 198.36,580.16 200.88,581.49 203.4,582.78 205.91,583.93 208.43,584.89 210.94,585.68 213.46,586.38 215.97,587.06 218.49,587.74 221.01,588.4 223.52,588.97 226.04,589.37 228.55,589.56 231.07,589.62 233.58,589.55 236.1,589.29 238.62,588.75 241.13,587.97 243.65,587.05 246.16,586.11 248.68,585.13 251.19,584.06 253.71,582.84 256.23,581.51 258.74,580.11 261.26,578.69 263.77,577.33 266.29,576.08 268.81,575.03 271.32,574.13 273.84,573.33 276.35,572.54 278.87,571.76 281.38,570.97 283.9,570.18 286.42,569.4 288.93,568.61 291.45,567.83 293.96,567.02 296.48,566.18 298.99,565.26 301.51,564.3 304.03,563.3 306.54,562.29 309.06,561.36 311.57,560.63 314.09,560.2 316.6,560.09 319.12,560.27 321.38,560.72 323.9,561.4 326.42,562.22 328.93,563.23 331.45,564.52 333.96,566.21 336.48,568.16 338.99,570.22 341.51,572.28 344.03,574.35 346.54,576.37 349.06,578.31 351.57,580.11 354.09,581.78 356.6,583.37 359.12,584.94 361.64,586.52 364.15,588.09 366.67,589.66 369.18,591.17 371.7,592.5 374.21,593.54 376.73,594.34 379.25,594.81 381.76,594.89 384.28,594.41 386.79,593.52 389.31,592.44 391.82,591.38 394.34,590.37 396.86,589.38 399.4,588.46 401.92,587.66 404.43,587.05 406.95,586.59 409.47,586.3 411.98,586.2 414.5,586.35 417.01,586.68 419.53,587.13 422.04,587.69 424.56,588.43 427.08,589.35 429.59,590.39 432.11,591.46 434.62,592.5 437.14,593.48 439.65,594.39 442.17,595.25 444.69,596.05 447.2,596.74 449.72,597.27 452.23,597.65 454.75,597.98 457.23,598.37 459.75,598.9 462.26,599.63 464.78,600.5 467.3,601.48 469.81,602.56 472.33,603.73 474.84,604.94 477.36,606.09 479.87,607.12 482.39,608.04 484.91,608.85 487.42,609.51 489.94,609.86 492.45,609.78 494.97,609.18 497.48,608.11 500,606.62 502.52,604.77 505.03,602.65 507.55,600.38 510.06,598.09 512.58,595.83 515.09,593.62 517.61,591.6 520.13,589.87 522.64,588.52 525.16,587.42 527.67,586.47 530.19,585.58 532.7,584.77 535.22,583.98 537.74,583.16 540.25,582.26 542.77,581.3 545.28,580.31 547.8,579.32 550.31,578.36 552.83,577.51 555.35,576.87 557.86,576.54 560.38,576.55 562.89,576.95 565.41,577.77 567.92,578.78 570.44,579.72 572.96,580.37 575.47,580.7 577.99,580.71 580.5,580.41 583.02,579.83 585.53,579.01 588.05,577.97 590.57,576.76 593.08,575.4 595.6,573.94 598.11,572.49 600.63,571.18 603.14,570.14 605.66,569.29 608.18,568.56 610.69,567.87 613.21,567.24 615.72,566.64 618.24,566.05 620.75,565.47 623.27,564.89 625.79,564.19 628.3,563.24 630.82,561.88 633.33,560.2 635.85,558.35 638.36,556.45 640.88,554.52 643.4,552.58 645.91,550.61 648.43,548.79 650.94,547.3 653.46,546.35 655.97,545.82 658.49,545.53 661.01,545.28 663.52,545.03 666.04,544.77 668.55,544.52 671.07,544.27 673.58,544.01 676.1,543.72 678.62,543.39 681.13,543.04 683.65,542.67 686.16,542.31 688.68,541.94 691.19,541.53 693.71,541.05 696.23,540.5 698.74,539.89 701.26,539.26 703.77,538.64 706.29,538.07 708.81,537.58 711.32,537.2 713.84,536.88 716.35,536.71 718.87,536.82 721.38,537.37 723.9,538.27 726.42,539.37 728.93,540.54 731.45,541.77 733.96,543.06 736.48,544.4 738.99,545.75 741.51,547.02 744.03,547.89 746.54,548.05 748.99,547.36 751.51,546.13 754.03,544.66 756.54,543.17 759.06,541.65 761.57,540.11 764.09,538.62 766.6,537.4 769.12,536.67 771.64,536.6 774.15,537.05 776.67,537.86 779.18,538.76 781.7,539.49 784.21,539.81 786.73,539.62 789.25,539.11 791.76,538.46 794.28,537.8 796.79,537.12 799.31,536.4 801.82,535.68 804.34,535.05 806.86,534.61 809.37,534.44 811.89,534.62 814.4,535.22 816.92,536.26 819.43,537.57 821.95,539.01 824.47,540.46 826.98,541.91 829.5,543.39 832.01,544.88 834.53,546.38 837.04,547.88 839.56,549.37 842.08,550.87 844.59,552.37 847.11,553.87 849.62,555.36 852.14,556.86 854.65,558.31 857.17,559.53 859.69,560.36 862.2,560.76 864.72,560.87 867.23,560.87 869.75,560.86 872.26,560.72 874.15,560.31 875.97,559.49 878.49,558.34 881.01,556.99 883.52,555.61 886.04,554.22 888.55,552.82 891.07,551.43 893.58,550.03 896.1,548.63 898.62,547.08 901.13,545.08 903.65,542.34 906.16,538.9 908.68,535.04 911.19,530.9 913.71,526.46 916.23,521.6 918.74,516.55 921.26,511.8 923.77,507.97 926.29,505.61 928.81,504.77 931.32,505.23 933.84,506.37 936.35,507.84 938.87,509.21 941.38,510.29 943.9,510.84 946.42,510.98 948.93,510.89 951.45,510.78 953.96,510.67 956.48,510.57 958.99,510.49 961.51,510.57 964.03,511.02 966.54,512.04 969.06,513.61 971.57,515.63 974.09,518.02 976.6,520.66 979.12,523.41 981.64,526.02 984.15,528.34 986.67,530.32 989.18,532.08 991.7,533.69 994.21,535.12 996.73,536.3 999.25,537.26 1001.76,538.12 1004.28,538.93 1006.79,539.72 1009.31,540.47 1011.82,541.2 1014.34,541.92 1016.86,542.74 1019.37,543.73 1021.89,544.99 1024.4,546.43 1026.92,548.03 1029.43,549.76 1031.89,551.65 1034.4,553.64 1036.92,555.68 1039.43,557.7 1041.95,559.64 1044.47,561.43 1046.98,563.03 1049.5,564.52 1052.01,565.95 1054.53,567.34 1057.04,568.63 1059.56,569.78 1062.08,570.84 1064.59,571.87 1067.11,572.96 1069.62,574.1 1072.14,575.28 1074.65,576.47 1077.17,577.66 1079.69,578.86 1082.2,579.97 1084.72,580.89 1087.23,581.53 1089.75,581.93 1092.26,582.06 1094.78,581.88 1097.3,581.29 1099.81,580.39 1102.33,579.23 1104.84,577.85 1107.36,576.2 1109.87,574.39 1112.39,572.55 1114.91,570.85 1117.42,569.33 1119.94,567.97 1122.45,566.71 1124.97,565.52 1127.48,564.44 1130,563.48 1132.52,562.6 1135.03,561.75 1137.55,560.9 1140.06,560.07 1142.58,559.26 1145.09,558.48 1147.61,557.72 1150.13,556.98 1152.64,556.3 1155.16,555.69 1157.67,555.15 1160.19,554.66 1162.7,554.23 1165.22,553.85 1167.74,553.61 1170.25,553.58 1172.77,553.81 1175.28,554.24 1177.8,554.8 1180.31,555.45 1182.83,556.21 1185.35,557.03 1187.86,557.89 1189.94,558.78 1192.45,559.75 1194.97,560.75 1197.48,561.63 1200,562.25" fill="none" stroke="#ff3a3a" stroke-width="1" stroke-linejoin="round"/>
<polyline points="2.26,582.67 4.78,581.65 7.3,580.89 9.81,580.48 12.33,579.07 14.84,577.27 17.36,575.55 19.87,574.44 22.39,573.78 24.91,571.95 27.42,569.65 29.94,567.33 32.45,565.07 34.97,562.89 37.48,560.74 40,558.72 42.52,557.33 45.03,556.57 47.55,556.76 50.06,556.59 52.58,555.97 55.09,555.39 57.61,555.23 60.13,555.22 62.64,555.22 65.16,555.15 67.67,554.81 70.19,554.48 72.7,554.66 75.22,555.19 77.74,556.03 80.25,557.86 82.77,559.89 85.28,561.37 87.8,562.64 90.31,564.04 92.83,566.02 95.35,568.4 97.86,571.56 100.38,574.71 102.89,576.4 105.41,576.5 107.92,576.12 110.44,576.09 112.96,576.18 115.47,576.26 117.99,576.18 120.5,575.24 123.02,573.29 125.53,571.14 128.05,569.53 130.57,568.63 133.08,567.94 135.6,567.5 138.11,567.16 140.63,566.98 143.14,567.39 145.66,567.86 148.18,568.15 150.69,568.43 153.21,568.81 155.72,569.24 158.24,569.66 160.63,569.88 163.14,569.23 165.66,568.1 168.18,567.1 170.69,566.7 173.21,567.17 175.72,570.65 178.24,574.87 180.75,577.3 183.27,579.2 185.79,580.81 188.3,581.35 190.82,581.95 193.33,583.58 195.85,585.44 198.36,586.84 200.88,586.99 203.4,587.17 205.91,587.93 208.43,588.45 210.94,588.74 213.46,589.02 215.97,589.48 218.49,590.02 221.01,590.51 223.52,590.55 226.04,589.97 228.55,589.27 231.07,588.64 233.58,587.92 236.1,586.57 238.62,584.56 241.13,582.59 243.65,581.4 246.16,580.52 248.68,579.69 251.19,578.79 253.71,577.57 256.23,575.88 258.74,574.21 261.26,573.09 263.77,572.28 266.29,571.62 268.81,571.36 271.32,571.32 273.84,571.24 276.35,570.8 278.87,570.3 281.38,570.44 283.9,570.74 286.42,568.95 288.93,566.55 291.45,564.14 293.96,561.77 296.48,559.49 298.99,557.59 301.51,557.29 304.03,557.94 306.54,559.18 309.06,560.38 311.57,560.84 314.09,561.01 316.6,561.15 319.12,561.5 321.38,562.87 323.9,565 326.42,567.26 328.93,569.56 331.45,572.02 333.96,574.53 336.48,577.08 338.99,579.66 341.51,581.62 344.03,582.68 346.54,583.68 349.06,585.09 351.57,586.43 354.09,587.35 356.6,589.28 359.12,591.87 361.64,594.43 364.15,596.28 366.67,597.07 369.18,597.05 371.7,596.4 374.21,595.57 376.73,594.59 379.25,593.58 381.76,592.5 384.28,591.1 386.79,589.59 389.31,588.06 391.82,586.53 394.34,585 396.86,583.8 399.4,584.13 401.92,585.52 404.43,585.93 406.95,585.64 409.47,585.7 411.98,586.29 414.5,587.2 417.01,588.54 419.53,589.93 422.04,591.13 424.56,592.2 427.08,593.47 429.59,595.06 432.11,596.54 434.62,597.47 437.14,598.18 439.65,598.72 442.17,599.1 444.69,598.9 447.2,598.24 449.72,597.48 452.23,597.08 454.75,598.19 457.23,599.93 459.75,601.79 462.26,603.68 464.78,605.55 467.3,607.33 469.81,609.09 472.33,610.64 474.84,611.3 477.36,611.44 479.87,610.8 482.39,610.03 484.91,609.55 487.42,609.07 489.94,608.01 492.45,606.14 494.97,603.28 497.48,600.48 500,597.92 502.52,595.41 505.03,592.89 507.55,590.38 510.06,588.09 512.58,586.71 515.09,585.56 517.61,584.33 520.13,583.96 522.64,585.47 525.16,586.23 527.67,585.07 530.19,583.46 532.7,581.71 535.22,579.89 537.74,578.08 540.25,576.38 542.77,575.2 545.28,575.13 547.8,575.34 550.31,575.71 552.83,576.39 555.35,576.89 557.86,576.98 560.38,577.2 562.89,578.74 565.41,582.07 567.92,584.59 570.44,585.16 572.96,583.08 575.47,579.81 577.99,576.79 580.5,574.47 583.02,572.52 585.53,571.31 588.05,571.8 590.57,571.83 593.08,571.63 595.6,571.31 598.11,570.33 600.63,568.61 603.14,566.92 605.66,565.97 608.18,565.33 610.69,564.69 613.21,564.01 615.72,563.32 618.24,562.63 620.75,561.94 623.27,561.14 625.79,559.59 628.3,556.75 630.82,553.64 633.33,550.83 635.85,548.51 638.36,546.38 640.88,544.65 643.4,543.66 645.91,543.25 648.43,544.34 650.94,545.5 653.46,545.85 655.97,545.97 658.49,545.84 661.01,545.38 663.52,543.94 666.04,542.43 668.55,541.7 671.07,541.69 673.58,542.33 676.1,543.04 678.62,543.6 681.13,543.6 683.65,542.32 686.16,540.89 688.68,540.13 691.19,539.63 693.71,539.24 696.23,538.92 698.74,538.5 701.26,537.65 703.77,536.57 706.29,535.86 708.81,535.96 711.32,537.05 713.84,537.74 716.35,537.96 718.87,537.66 721.38,537.96 723.9,541.2 726.42,545.94 728.93,550.78 731.45,552.91 733.96,552.54 736.48,551.62 738.99,550.61 741.51,548.73 744.03,546.3 746.54,543.02 748.99,539.74 751.51,536.91 754.03,534.74 756.54,533.84 759.06,534.17 761.57,535.29 764.09,536.95 766.6,538.53 769.12,539.82 771.64,540.76 774.15,540.91 776.67,540.64 779.18,539.91 781.7,538.94 784.21,537.79 786.73,536.68 789.25,535.63 791.76,534.45 794.28,533.37 796.79,533.15 799.31,533.21 801.82,533.17 804.34,534.12 806.86,535.65 809.37,537.24 811.89,538.86 814.4,540.58 816.92,542.4 819.43,544.35 821.95,546.35 824.47,548.36 826.98,550.39 829.5,552.47 832.01,554.44 834.53,555.86 837.04,556.99 839.56,558.17 842.08,559.58 844.59,561.06 847.11,562.53 849.62,563.65 852.14,563.18 854.65,561.83 857.17,560.77 859.69,560.22 862.2,559.78 864.72,559.49 867.23,559.66 869.75,559.94 872.26,559.96 874.15,558.79 875.97,556.62 878.49,553.77 881.01,550.83 883.52,548.1 886.04,546.01 888.55,544.32 891.07,543.62 893.58,543.46 896.1,543.65 898.62,544.1 901.13,542.55 903.65,532.66 906.16,520.34 908.68,508.93 911.19,501.14 913.71,497.06 916.23,496.25 918.74,498.07 921.26,501.42 923.77,506.1 926.29,510.61 928.81,514.05 931.32,516.31 933.84,514.8 936.35,512.41 938.87,511.04 941.38,510.07 943.9,509.6 946.42,509.05 948.93,507.9 951.45,509.06 953.96,510.23 956.48,511.03 958.99,512.39 961.51,514.53 964.03,516.76 966.54,519.24 969.06,522.68 971.57,526 974.09,528.98 976.6,531.76 979.12,534.31 981.64,536.45 984.15,537.38 986.67,538.01 989.18,538.66 991.7,539.4 994.21,540.15 996.73,540.81 999.25,541.18 1001.76,541.49 1004.28,541.83 1006.79,542.46 1009.31,543.55 1011.82,544.73 1014.34,545.79 1016.86,546.68 1019.37,547.76 1021.89,549.58 1024.4,551.66 1026.92,554.09 1029.43,556.89 1031.89,559.4 1034.4,561.09 1036.92,562.63 1039.43,564.29 1041.95,565.59 1044.47,565.5 1046.98,565.53 1049.5,566.76 1052.01,568.33 1054.53,569.98 1057.04,571.51 1059.56,572.48 1062.08,573.48 1064.59,575.18 1067.11,577.2 1069.62,579.09 1072.14,580.72 1074.65,581.83 1077.17,582.58 1079.69,583.22 1082.2,583.56 1084.72,583.34 1087.23,582.84 1089.75,581.73 1092.26,580.42 1094.78,578.87 1097.3,577.07 1099.81,574.54 1102.33,571.49 1104.84,568.96 1107.36,567.04 1109.87,565.91 1112.39,565.13 1114.91,564.34 1117.42,563.41 1119.94,562.7 1122.45,562.43 1124.97,562.17 1127.48,561.58 1130,560.85 1132.52,559.89 1135.03,558.83 1137.55,557.78 1140.06,556.76 1142.58,555.68 1145.09,554.66 1147.61,554.52 1150.13,555.48 1152.64,556.25 1155.16,555.82 1157.67,554.16 1160.19,552.89 1162.7,552.08 1165.22,552.06 1167.74,552.45 1170.25,553.79 1172.77,555.63 1175.28,557.55 1177.8,559.15 1180.31,559.58 1182.83,559.8 1185.35,560.45 1187.86,561.6 1189.94,562.71 1192.45,563.89 1194.97,565.04 1197.48,566.1 1200,566.84" fill="none" stroke="#3a3a3a" stroke-width="1" stroke-linejoin="round"/>
<path d="M1.6 481.5 H1278" stroke="#1c1c1c" stroke-width="1.1" fill="none"/>
<path d="M1237 0 V620.0" stroke="#5a5a5a" stroke-width="1.5" fill="none"/>
<path d="M0 619.5 H1237.7" stroke="#4a4a4a" stroke-width="1.3" fill="none"/>
<path d="M1237 9.4h3.5M1237 32.6h3.5M1237 57.9h3.5M1237 82.5h3.5M1237 107.4h3.5M1237 138.6h3.5M1237 170.8h3.5M1237 197.7h3.5M1237 223.6h3.5M1237 250h3.5M1237 277.2h3.5M1237 305.2h3.5M1237 332.1h3.5M1237 353.7h3.5M1237 375.1h3.5M1237 397h3.5M1237 419.1h3.5M1237 442.5h3.5M1237 464.4h3.5M1237 485.6h3.5M1237 513.3h3.5M1237 540.4h3.5M1237 567.6h3.5M1237 595h3.5M53.5 619.5v3.5M159 619.5v3.5M267 619.5v3.5M377.5 619.5v3.5M492.5 619.5v3.5M606.2 619.5v3.5M711.75 619.5v3.5M821.25 619.5v3.5M917 619.5v3.5M1020 619.5v3.5M1135.75 619.5v3.5" stroke="#555" stroke-width="1" fill="none"/>
<text x="1241.8" y="12.9" font-family="'Liberation Sans', sans-serif" font-size="9.7" fill="#555" textLength="18.5" lengthAdjust="spacingAndGlyphs">3560</text>
<text x="1241.8" y="36.1" font-family="'Liberation Sans', sans-serif" font-size="9.7" fill="#555" textLength="18.5" lengthAdjust="spacingAndGlyphs">3520</text>
<text x="1241.8" y="61.4" font-family="'Liberation Sans', sans-serif" font-size="9.7" fill="#555" textLength="18.5" lengthAdjust="spacingAndGlyphs">3480</text>
<text x="1241.8" y="86" font-family="'Liberation Sans', sans-serif" font-size="9.7" fill="#555" textLength="18.5" lengthAdjust="spacingAndGlyphs">3440</text>
<text x="1241.8" y="110.9" font-family="'Liberation Sans', sans-serif" font-size="9.7" fill="#555" textLength="18.5" lengthAdjust="spacingAndGlyphs">3400</text>
<text x="1241.8" y="142.1" font-family="'Liberation Sans', sans-serif" font-size="9.7" fill="#555" textLength="18.5" lengthAdjust="spacingAndGlyphs">3350</text>
<text x="1241.8" y="174.3" font-family="'Liberation Sans', sans-serif" font-size="9.7" fill="#555" textLength="18.5" lengthAdjust="spacingAndGlyphs">3300</text>
<text x="1241.8" y="201.2" font-family="'Liberation Sans', sans-serif" font-size="9.7" fill="#555" textLength="18.5" lengthAdjust="spacingAndGlyphs">3260</text>
<text x="1241.8" y="227.1" font-family="'Liberation Sans', sans-serif" font-size="9.7" fill="#555" textLength="18.5" lengthAdjust="spacingAndGlyphs">3220</text>
<text x="1241.8" y="253.5" font-family="'Liberation Sans', sans-serif" font-size="9.7" fill="#555" textLength="18.5" lengthAdjust="spacingAndGlyphs">3180</text>
<text x="1241.8" y="280.7" font-family="'Liberation Sans', sans-serif" font-size="9.7" fill="#555" textLength="18.5" lengthAdjust="spacingAndGlyphs">3140</text>
<text x="1241.8" y="308.7" font-family="'Liberation Sans', sans-serif" font-size="9.7" fill="#555" textLength="18.5" lengthAdjust="spacingAndGlyphs">3100</text>
<text x="1241.8" y="335.6" font-family="'Liberation Sans', sans-serif" font-size="9.7" fill="#555" textLength="18.5" lengthAdjust="spacingAndGlyphs">3060</text>
<text x="1241.8" y="357.2" font-family="'Liberation Sans', sans-serif" font-size="9.7" fill="#555" textLength="18.5" lengthAdjust="spacingAndGlyphs">3030</text>
<text x="1241.8" y="378.6" font-family="'Liberation Sans', sans-serif" font-size="9.7" fill="#555" textLength="18.5" lengthAdjust="spacingAndGlyphs">3000</text>
<text x="1241.8" y="400.5" font-family="'Liberation Sans', sans-serif" font-size="9.7" fill="#555" textLength="18.5" lengthAdjust="spacingAndGlyphs">2970</text>
<text x="1241.8" y="422.6" font-family="'Liberation Sans', sans-serif" font-size="9.7" fill="#555" textLength="18.5" lengthAdjust="spacingAndGlyphs">2940</text>
<text x="1241.8" y="446" font-family="'Liberation Sans', sans-serif" font-size="9.7" fill="#555" textLength="18.5" lengthAdjust="spacingAndGlyphs">2908</text>
<text x="1241.8" y="467.9" font-family="'Liberation Sans', sans-serif" font-size="9.7" fill="#555" textLength="18.5" lengthAdjust="spacingAndGlyphs">2878</text>
<text x="1241.8" y="489.1" font-family="'Liberation Sans', sans-serif" font-size="9.7" fill="#555" textLength="29.7" lengthAdjust="spacingAndGlyphs">60.0000</text>
<text x="1241.8" y="516.8" font-family="'Liberation Sans', sans-serif" font-size="9.7" fill="#555" textLength="29.7" lengthAdjust="spacingAndGlyphs">40.0000</text>
<text x="1241.8" y="543.9" font-family="'Liberation Sans', sans-serif" font-size="9.7" fill="#555" textLength="29.7" lengthAdjust="spacingAndGlyphs">20.0000</text>
<text x="1241.8" y="571.1" font-family="'Liberation Sans', sans-serif" font-size="9.7" fill="#555" textLength="25" lengthAdjust="spacingAndGlyphs">0.0000</text>
<text x="1241.8" y="598.5" font-family="'Liberation Sans', sans-serif" font-size="9.7" fill="#555" textLength="32.7" lengthAdjust="spacingAndGlyphs">-20.0000</text>
<text x="53.5" y="632" font-family="'Liberation Sans', sans-serif" font-size="9.7" fill="#555" text-anchor="middle" textLength="9.2" lengthAdjust="spacingAndGlyphs">19</text>
<text x="159" y="632" font-family="'Liberation Sans', sans-serif" font-size="9.7" fill="#555" text-anchor="middle" textLength="9.2" lengthAdjust="spacingAndGlyphs">21</text>
<text x="267" y="632" font-family="'Liberation Sans', sans-serif" font-size="9.7" fill="#555" text-anchor="middle" textLength="9.2" lengthAdjust="spacingAndGlyphs">23</text>
<text x="377.5" y="632" font-family="'Liberation Sans', sans-serif" font-size="9.7" fill="#555" text-anchor="middle" textLength="9.2" lengthAdjust="spacingAndGlyphs">27</text>
<text x="492.5" y="632" font-family="'Liberation Sans', sans-serif" font-size="9.7" fill="#555" text-anchor="middle" textLength="9.2" lengthAdjust="spacingAndGlyphs">29</text>
<text x="606.2" y="632" font-family="'Liberation Sans', sans-serif" font-size="9.7" fill="#222" text-anchor="middle" textLength="14.5" lengthAdjust="spacingAndGlyphs" font-weight="bold">Nov</text>
<text x="711.75" y="632" font-family="'Liberation Sans', sans-serif" font-size="9.7" fill="#555" text-anchor="middle" textLength="4.6" lengthAdjust="spacingAndGlyphs">4</text>
<text x="821.25" y="632" font-family="'Liberation Sans', sans-serif" font-size="9.7" fill="#555" text-anchor="middle" textLength="4.6" lengthAdjust="spacingAndGlyphs">6</text>
<text x="917" y="632" font-family="'Liberation Sans', sans-serif" font-size="9.7" fill="#555" text-anchor="middle" textLength="9.2" lengthAdjust="spacingAndGlyphs">10</text>
<text x="1020" y="632" font-family="'Liberation Sans', sans-serif" font-size="9.7" fill="#555" text-anchor="middle" textLength="9.2" lengthAdjust="spacingAndGlyphs">12</text>
<text x="1135.75" y="632" font-family="'Liberation Sans', sans-serif" font-size="9.7" fill="#555" text-anchor="middle" textLength="9.2" lengthAdjust="spacingAndGlyphs">16</text>
<rect x="1236.4" y="68.1" width="27.6" height="12.7" fill="#0000ff"/>
<text x="1241.8" y="78" font-family="'Liberation Sans', sans-serif" font-size="9.7" fill="#fff" textLength="18" lengthAdjust="spacingAndGlyphs">3452</text>
<polygon points="903.6,76.35 1146.88,35.38 1147.56,39.47 1158.9,29.7 1144.99,24.18 1145.68,28.28 902.4,69.25" fill="#ff0808"/>
<polygon points="915.15,486.26 1171.17,543.94 1170.31,547.75 1184.5,543 1173.72,532.63 1172.86,536.43 916.85,478.74" fill="#ff0808"/>
<polygon points="466.25,441.55 557.16,468.41 556.03,472.24 570.2,468.4 560.39,457.47 559.26,461.31 468.35,434.45" fill="#0cff0c"/>
<polygon points="480.59,629.73 569.45,602.23 570.64,606.05 580.3,595 566.08,591.34 567.26,595.16 478.41,622.67" fill="#0cff0c"/>
<rect x="6.9" y="11.3" width="9.1" height="9.1" fill="#fff" stroke="#a2a2a2" stroke-width="1.3"/><path d="M8.8 15.85h5.3" stroke="#a2a2a2" stroke-width="1.4"/>
<text x="22.4" y="21.7" font-family="'Liberation Sans', sans-serif" font-size="13.2" fill="#111" textLength="166" lengthAdjust="spacingAndGlyphs" stroke="#111" stroke-width="0.12">Futuros Euro Stoxx 50, 60,</text>
<path d="M193.5 15.2h6l-3 3.2z" fill="#b8b8b8"/>
<rect x="208" y="12" width="11.8" height="11.6" fill="#d9d9d9"/>
<ellipse cx="213.9" cy="17.9" rx="3.7" ry="3.2" fill="none" stroke="#fff" stroke-width="1.3"/><circle cx="213.9" cy="17.9" r="1" fill="#efefef"/>
<rect x="222.4" y="12" width="11.8" height="11.6" fill="#d9d9d9"/>
<circle cx="228.3" cy="17.8" r="2.6" fill="none" stroke="#fff" stroke-width="1.7"/><circle cx="228.3" cy="17.8" r="3.9" fill="none" stroke="#fff" stroke-width="1.5" stroke-dasharray="1.55 1.51"/>
<text x="241.3" y="22" font-family="'Liberation Sans', sans-serif" font-size="12.2" fill="#444" textLength="7.4" lengthAdjust="spacingAndGlyphs">O</text>
<text x="251.6" y="22" font-family="'Liberation Sans', sans-serif" font-size="12" fill="#111" textLength="24.2" lengthAdjust="spacingAndGlyphs" stroke="#111" stroke-width="0.12">3452</text>
<text x="285.6" y="22" font-family="'Liberation Sans', sans-serif" font-size="12.2" fill="#444" textLength="6.3" lengthAdjust="spacingAndGlyphs">H</text>
<text x="295.6" y="22" font-family="'Liberation Sans', sans-serif" font-size="12" fill="#111" textLength="24.2" lengthAdjust="spacingAndGlyphs" stroke="#111" stroke-width="0.12">3452</text>
<text x="330" y="22" font-family="'Liberation Sans', sans-serif" font-size="12.2" fill="#444" textLength="4.5" lengthAdjust="spacingAndGlyphs">L</text>
<text x="337.6" y="22" font-family="'Liberation Sans', sans-serif" font-size="12" fill="#111" textLength="24.2" lengthAdjust="spacingAndGlyphs" stroke="#111" stroke-width="0.12">3448</text>
<text x="372" y="22" font-family="'Liberation Sans', sans-serif" font-size="12.2" fill="#444" textLength="6.3" lengthAdjust="spacingAndGlyphs">C</text>
<text x="380.6" y="22" font-family="'Liberation Sans', sans-serif" font-size="12" fill="#111" textLength="24.2" lengthAdjust="spacingAndGlyphs" stroke="#111" stroke-width="0.12">3452</text>
<text x="6" y="37.7" font-family="'Liberation Sans', sans-serif" font-size="10" fill="#c9c9c9" textLength="74.5" lengthAdjust="spacingAndGlyphs">MA (10, close, 0)</text>
<path d="M85.5 32.8h6l-3 3.2z" fill="#cfcfcf"/>
<rect x="100" y="29.3" width="11.8" height="11.6" fill="#29abe2"/>
<path d="M101.3 35.2Q105.9 28 110.5 35.2Q105.9 42.4 101.3 35.2z" fill="#fff"/>
<circle cx="105.9" cy="35.2" r="1.75" fill="#fff" stroke="#29abe2" stroke-width="1.1"/>
<rect x="114" y="29.3" width="11.8" height="11.6" fill="#d9d9d9"/>
<circle cx="119.9" cy="35.1" r="2.6" fill="none" stroke="#fff" stroke-width="1.7"/><circle cx="119.9" cy="35.1" r="3.9" fill="none" stroke="#fff" stroke-width="1.5" stroke-dasharray="1.55 1.51"/>
<rect x="128.4" y="29.3" width="11.8" height="11.6" fill="#d9d9d9"/>
<path d="M131 31.8l6.6 6.6m0 -6.6l-6.6 6.6" stroke="#fff" stroke-width="1.2" fill="none"/>
<text x="6" y="54.7" font-family="'Liberation Sans', sans-serif" font-size="10" fill="#222" textLength="85.5" lengthAdjust="spacingAndGlyphs">EMA (200, close, 0)</text>
<path d="M95.6 49.8h6l-3 3.2z" fill="#b8b8b8"/>
<rect x="110.4" y="46.3" width="11.8" height="11.6" fill="#d9d9d9"/>
<ellipse cx="116.3" cy="52.2" rx="3.7" ry="3.2" fill="none" stroke="#fff" stroke-width="1.3"/><circle cx="116.3" cy="52.2" r="1" fill="#efefef"/>
<rect x="124.6" y="46.3" width="11.8" height="11.6" fill="#d9d9d9"/>
<circle cx="130.5" cy="52.1" r="2.6" fill="none" stroke="#fff" stroke-width="1.7"/><circle cx="130.5" cy="52.1" r="3.9" fill="none" stroke="#fff" stroke-width="1.5" stroke-dasharray="1.55 1.51"/>
<rect x="139" y="46.3" width="11.8" height="11.6" fill="#d9d9d9"/>
<path d="M141.6 48.8l6.6 6.6m0 -6.6l-6.6 6.6" stroke="#fff" stroke-width="1.2" fill="none"/>
<text x="6" y="71.6" font-family="'Liberation Sans', sans-serif" font-size="10" fill="#222" textLength="80.5" lengthAdjust="spacingAndGlyphs">EMA (50, close, 0)</text>
<path d="M90.5 66.3h6l-3 3.2z" fill="#b8b8b8"/>
<rect x="105" y="62.8" width="11.8" height="11.6" fill="#d9d9d9"/>
<ellipse cx="110.9" cy="68.7" rx="3.7" ry="3.2" fill="none" stroke="#fff" stroke-width="1.3"/><circle cx="110.9" cy="68.7" r="1" fill="#efefef"/>
<rect x="119.2" y="62.8" width="11.8" height="11.6" fill="#d9d9d9"/>
<circle cx="125.1" cy="68.6" r="2.6" fill="none" stroke="#fff" stroke-width="1.7"/><circle cx="125.1" cy="68.6" r="3.9" fill="none" stroke="#fff" stroke-width="1.5" stroke-dasharray="1.55 1.51"/>
<rect x="133.8" y="62.8" width="11.8" height="11.6" fill="#d9d9d9"/>
<path d="M136.4 65.3l6.6 6.6m0 -6.6l-6.6 6.6" stroke="#fff" stroke-width="1.2" fill="none"/>
<text x="6" y="498.9" font-family="'Liberation Sans', sans-serif" font-size="10" fill="#222" textLength="104.7" lengthAdjust="spacingAndGlyphs">MACD (12, 26, close, 9)</text>
<path d="M115 493.6h6l-3 3.2z" fill="#b8b8b8"/>
<rect x="129.3" y="489.4" width="11.8" height="11.6" fill="#d9d9d9"/>
<ellipse cx="135.2" cy="495.3" rx="3.7" ry="3.2" fill="none" stroke="#fff" stroke-width="1.3"/><circle cx="135.2" cy="495.3" r="1" fill="#efefef"/>
<rect x="143.5" y="489.4" width="11.8" height="11.6" fill="#d9d9d9"/>
<circle cx="149.4" cy="495.2" r="2.6" fill="none" stroke="#fff" stroke-width="1.7"/><circle cx="149.4" cy="495.2" r="3.9" fill="none" stroke="#fff" stroke-width="1.5" stroke-dasharray="1.55 1.51"/>
<rect x="157.9" y="489.4" width="11.8" height="11.6" fill="#d9d9d9"/>
<path d="M160.5 491.9l6.6 6.6m0 -6.6l-6.6 6.6" stroke="#fff" stroke-width="1.2" fill="none"/>
<text x="12.9" y="467.7" font-family="'Liberation Sans', sans-serif" font-size="16.8" fill="#111" textLength="74.2" lengthAdjust="spacingAndGlyphs" font-weight="bold" stroke="#111" stroke-width="0.6">Investing</text>
<path d="M62.9 458l2.6 -3.9l1.9 1.1l-1.9 3.6z" fill="#f7a11a"/>
<text x="88.5" y="467.7" font-family="'Liberation Sans', sans-serif" font-size="13" fill="#333" textLength="24.6" lengthAdjust="spacingAndGlyphs">.com</text>
<text x="841.2" y="458.7" font-family="'DejaVu Sans', sans-serif" font-size="10.6" fill="#111" textLength="272.4" lengthAdjust="spacingAndGlyphs" font-weight="bold" font-style="italic">J. SIERRA - WWW - INVERTIRYESPECULAR.COM</text>
<rect x="0" y="0" width="1280" height="1" fill="#333"/>
<rect x="0" y="0" width="1" height="636" fill="#00182e"/>
<rect x="1" y="1" width="0.6" height="634" fill="#cfe6f7"/>
<rect x="1278" y="1" width="1" height="634" fill="#b5e0fb"/>
<rect x="1279" y="0" width="1" height="636" fill="#00182e"/>
<rect x="0" y="635" width="1280" height="1" fill="#1c1c1c"/>
</svg>
</body></html>
